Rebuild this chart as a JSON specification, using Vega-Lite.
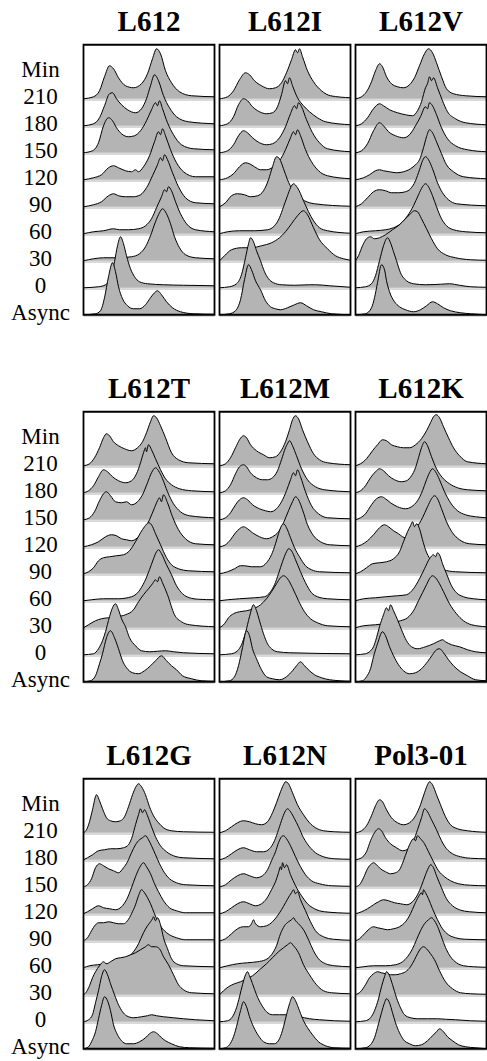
{
"$schema": "https://vega.github.io/schema/vega-lite/v6.json",
"background": "white",
"padding": {"left": 5.5, "top": 8, "right": 0, "bottom": 0},
"spacing": 23,
"config": {"view": {"stroke": null}},
"datasets": {"d": [
{"s":"L612","t":"210","x":0,"v":0},{"s":"L612","t":"210","x":10,"v":2},{"s":"L612","t":"210","x":16,"v":8},{"s":"L612","t":"210","x":21,"v":22},{"s":"L612","t":"210","x":26,"v":33},{"s":"L612","t":"210","x":30,"v":30},{"s":"L612","t":"210","x":35,"v":21},{"s":"L612","t":"210","x":42,"v":13},{"s":"L612","t":"210","x":50,"v":11},{"s":"L612","t":"210","x":58,"v":15},{"s":"L612","t":"210","x":64,"v":25},{"s":"L612","t":"210","x":69,"v":40},{"s":"L612","t":"210","x":73,"v":50},{"s":"L612","t":"210","x":77,"v":45},{"s":"L612","t":"210","x":82,"v":28},{"s":"L612","t":"210","x":88,"v":16},{"s":"L612","t":"210","x":96,"v":7},{"s":"L612","t":"210","x":108,"v":3},{"s":"L612","t":"210","x":131,"v":2},
{"s":"L612","t":"180","x":0,"v":0},{"s":"L612","t":"180","x":10,"v":2},{"s":"L612","t":"180","x":16,"v":8},{"s":"L612","t":"180","x":21,"v":20},{"s":"L612","t":"180","x":26,"v":32},{"s":"L612","t":"180","x":29,"v":33},{"s":"L612","t":"180","x":33,"v":27},{"s":"L612","t":"180","x":38,"v":21},{"s":"L612","t":"180","x":44,"v":16},{"s":"L612","t":"180","x":52,"v":13},{"s":"L612","t":"180","x":58,"v":17},{"s":"L612","t":"180","x":63,"v":27},{"s":"L612","t":"180","x":67,"v":40},{"s":"L612","t":"180","x":71,"v":51},{"s":"L612","t":"180","x":75,"v":45},{"s":"L612","t":"180","x":80,"v":30},{"s":"L612","t":"180","x":86,"v":18},{"s":"L612","t":"180","x":93,"v":9},{"s":"L612","t":"180","x":105,"v":4},{"s":"L612","t":"180","x":131,"v":2},
{"s":"L612","t":"150","x":0,"v":0},{"s":"L612","t":"150","x":9,"v":2},{"s":"L612","t":"150","x":15,"v":10},{"s":"L612","t":"150","x":20,"v":27},{"s":"L612","t":"150","x":25,"v":35},{"s":"L612","t":"150","x":29,"v":32},{"s":"L612","t":"150","x":33,"v":25},{"s":"L612","t":"150","x":38,"v":19},{"s":"L612","t":"150","x":45,"v":16},{"s":"L612","t":"150","x":51,"v":17},{"s":"L612","t":"150","x":57,"v":22},{"s":"L612","t":"150","x":63,"v":32},{"s":"L612","t":"150","x":68,"v":43},{"s":"L612","t":"150","x":72,"v":50},{"s":"L612","t":"150","x":74,"v":47},{"s":"L612","t":"150","x":76,"v":52},{"s":"L612","t":"150","x":79,"v":44},{"s":"L612","t":"150","x":84,"v":30},{"s":"L612","t":"150","x":90,"v":18},{"s":"L612","t":"150","x":98,"v":8},{"s":"L612","t":"150","x":110,"v":4},{"s":"L612","t":"150","x":131,"v":3},
{"s":"L612","t":"120","x":0,"v":0},{"s":"L612","t":"120","x":10,"v":2},{"s":"L612","t":"120","x":18,"v":5},{"s":"L612","t":"120","x":25,"v":12},{"s":"L612","t":"120","x":30,"v":14},{"s":"L612","t":"120","x":35,"v":12},{"s":"L612","t":"120","x":42,"v":9},{"s":"L612","t":"120","x":48,"v":8},{"s":"L612","t":"120","x":52,"v":10},{"s":"L612","t":"120","x":55,"v":8},{"s":"L612","t":"120","x":60,"v":13},{"s":"L612","t":"120","x":66,"v":24},{"s":"L612","t":"120","x":71,"v":38},{"s":"L612","t":"120","x":75,"v":48},{"s":"L612","t":"120","x":77,"v":45},{"s":"L612","t":"120","x":79,"v":51},{"s":"L612","t":"120","x":82,"v":44},{"s":"L612","t":"120","x":87,"v":30},{"s":"L612","t":"120","x":93,"v":17},{"s":"L612","t":"120","x":100,"v":8},{"s":"L612","t":"120","x":112,"v":3},{"s":"L612","t":"120","x":131,"v":3},
{"s":"L612","t":"90","x":0,"v":0},{"s":"L612","t":"90","x":10,"v":2},{"s":"L612","t":"90","x":18,"v":5},{"s":"L612","t":"90","x":25,"v":11},{"s":"L612","t":"90","x":30,"v":13},{"s":"L612","t":"90","x":35,"v":11},{"s":"L612","t":"90","x":42,"v":10},{"s":"L612","t":"90","x":50,"v":10},{"s":"L612","t":"90","x":57,"v":12},{"s":"L612","t":"90","x":63,"v":19},{"s":"L612","t":"90","x":69,"v":31},{"s":"L612","t":"90","x":74,"v":42},{"s":"L612","t":"90","x":77,"v":49},{"s":"L612","t":"90","x":79,"v":46},{"s":"L612","t":"90","x":81,"v":52},{"s":"L612","t":"90","x":84,"v":47},{"s":"L612","t":"90","x":89,"v":34},{"s":"L612","t":"90","x":95,"v":20},{"s":"L612","t":"90","x":102,"v":9},{"s":"L612","t":"90","x":112,"v":4},{"s":"L612","t":"90","x":131,"v":3},
{"s":"L612","t":"60","x":0,"v":0},{"s":"L612","t":"60","x":10,"v":2},{"s":"L612","t":"60","x":20,"v":3},{"s":"L612","t":"60","x":30,"v":5},{"s":"L612","t":"60","x":36,"v":4},{"s":"L612","t":"60","x":45,"v":4},{"s":"L612","t":"60","x":55,"v":5},{"s":"L612","t":"60","x":62,"v":8},{"s":"L612","t":"60","x":68,"v":15},{"s":"L612","t":"60","x":73,"v":26},{"s":"L612","t":"60","x":78,"v":37},{"s":"L612","t":"60","x":81,"v":44},{"s":"L612","t":"60","x":83,"v":42},{"s":"L612","t":"60","x":85,"v":47},{"s":"L612","t":"60","x":88,"v":43},{"s":"L612","t":"60","x":92,"v":32},{"s":"L612","t":"60","x":97,"v":20},{"s":"L612","t":"60","x":103,"v":10},{"s":"L612","t":"60","x":112,"v":4},{"s":"L612","t":"60","x":131,"v":2},
{"s":"L612","t":"30","x":0,"v":0},{"s":"L612","t":"30","x":10,"v":2},{"s":"L612","t":"30","x":20,"v":3},{"s":"L612","t":"30","x":35,"v":3},{"s":"L612","t":"30","x":48,"v":4},{"s":"L612","t":"30","x":56,"v":7},{"s":"L612","t":"30","x":62,"v":14},{"s":"L612","t":"30","x":67,"v":25},{"s":"L612","t":"30","x":72,"v":39},{"s":"L612","t":"30","x":76,"v":48},{"s":"L612","t":"30","x":79,"v":52},{"s":"L612","t":"30","x":83,"v":47},{"s":"L612","t":"30","x":87,"v":37},{"s":"L612","t":"30","x":91,"v":24},{"s":"L612","t":"30","x":96,"v":13},{"s":"L612","t":"30","x":102,"v":6},{"s":"L612","t":"30","x":112,"v":3},{"s":"L612","t":"30","x":131,"v":2},
{"s":"L612","t":"0","x":0,"v":0},{"s":"L612","t":"0","x":15,"v":1},{"s":"L612","t":"0","x":22,"v":3},{"s":"L612","t":"0","x":27,"v":10},{"s":"L612","t":"0","x":31,"v":26},{"s":"L612","t":"0","x":34,"v":42},{"s":"L612","t":"0","x":37,"v":51},{"s":"L612","t":"0","x":40,"v":44},{"s":"L612","t":"0","x":43,"v":32},{"s":"L612","t":"0","x":47,"v":19},{"s":"L612","t":"0","x":51,"v":11},{"s":"L612","t":"0","x":56,"v":6},{"s":"L612","t":"0","x":64,"v":4},{"s":"L612","t":"0","x":80,"v":3},{"s":"L612","t":"0","x":100,"v":2.5},{"s":"L612","t":"0","x":131,"v":2},
{"s":"L612","t":"Async","x":0,"v":0},{"s":"L612","t":"Async","x":12,"v":1},{"s":"L612","t":"Async","x":17,"v":4},{"s":"L612","t":"Async","x":21,"v":17},{"s":"L612","t":"Async","x":25,"v":38},{"s":"L612","t":"Async","x":29,"v":52},{"s":"L612","t":"Async","x":32,"v":43},{"s":"L612","t":"Async","x":35,"v":28},{"s":"L612","t":"Async","x":39,"v":16},{"s":"L612","t":"Async","x":44,"v":9},{"s":"L612","t":"Async","x":50,"v":6},{"s":"L612","t":"Async","x":56,"v":6},{"s":"L612","t":"Async","x":62,"v":10},{"s":"L612","t":"Async","x":67,"v":17},{"s":"L612","t":"Async","x":71,"v":22},{"s":"L612","t":"Async","x":74,"v":24},{"s":"L612","t":"Async","x":78,"v":20},{"s":"L612","t":"Async","x":83,"v":13},{"s":"L612","t":"Async","x":89,"v":7},{"s":"L612","t":"Async","x":97,"v":3},{"s":"L612","t":"Async","x":110,"v":1},{"s":"L612","t":"Async","x":131,"v":0.5},

{"s":"L612I","t":"210","x":0,"v":0},{"s":"L612I","t":"210","x":8,"v":2},{"s":"L612I","t":"210","x":14,"v":8},{"s":"L612I","t":"210","x":20,"v":19},{"s":"L612I","t":"210","x":26,"v":26},{"s":"L612I","t":"210","x":30,"v":24},{"s":"L612I","t":"210","x":35,"v":18},{"s":"L612I","t":"210","x":42,"v":13},{"s":"L612I","t":"210","x":50,"v":10},{"s":"L612I","t":"210","x":56,"v":11},{"s":"L612I","t":"210","x":62,"v":16},{"s":"L612I","t":"210","x":67,"v":26},{"s":"L612I","t":"210","x":72,"v":39},{"s":"L612I","t":"210","x":76,"v":49},{"s":"L612I","t":"210","x":78,"v":46},{"s":"L612I","t":"210","x":80,"v":50},{"s":"L612I","t":"210","x":83,"v":42},{"s":"L612I","t":"210","x":88,"v":28},{"s":"L612I","t":"210","x":94,"v":17},{"s":"L612I","t":"210","x":102,"v":8},{"s":"L612I","t":"210","x":111,"v":3},{"s":"L612I","t":"210","x":131,"v":1},
{"s":"L612I","t":"180","x":0,"v":0},{"s":"L612I","t":"180","x":8,"v":2},{"s":"L612I","t":"180","x":14,"v":9},{"s":"L612I","t":"180","x":19,"v":21},{"s":"L612I","t":"180","x":24,"v":27},{"s":"L612I","t":"180","x":28,"v":25},{"s":"L612I","t":"180","x":33,"v":19},{"s":"L612I","t":"180","x":40,"v":14},{"s":"L612I","t":"180","x":47,"v":12},{"s":"L612I","t":"180","x":53,"v":13},{"s":"L612I","t":"180","x":58,"v":19},{"s":"L612I","t":"180","x":62,"v":31},{"s":"L612I","t":"180","x":66,"v":45},{"s":"L612I","t":"180","x":68,"v":42},{"s":"L612I","t":"180","x":70,"v":48},{"s":"L612I","t":"180","x":73,"v":40},{"s":"L612I","t":"180","x":78,"v":28},{"s":"L612I","t":"180","x":84,"v":20},{"s":"L612I","t":"180","x":90,"v":14},{"s":"L612I","t":"180","x":98,"v":8},{"s":"L612I","t":"180","x":106,"v":4},{"s":"L612I","t":"180","x":131,"v":1},
{"s":"L612I","t":"150","x":0,"v":0},{"s":"L612I","t":"150","x":8,"v":2},{"s":"L612I","t":"150","x":14,"v":8},{"s":"L612I","t":"150","x":19,"v":17},{"s":"L612I","t":"150","x":24,"v":22},{"s":"L612I","t":"150","x":28,"v":20},{"s":"L612I","t":"150","x":33,"v":15},{"s":"L612I","t":"150","x":40,"v":10},{"s":"L612I","t":"150","x":47,"v":8},{"s":"L612I","t":"150","x":53,"v":9},{"s":"L612I","t":"150","x":60,"v":15},{"s":"L612I","t":"150","x":66,"v":26},{"s":"L612I","t":"150","x":71,"v":39},{"s":"L612I","t":"150","x":75,"v":47},{"s":"L612I","t":"150","x":77,"v":44},{"s":"L612I","t":"150","x":79,"v":50},{"s":"L612I","t":"150","x":82,"v":46},{"s":"L612I","t":"150","x":87,"v":33},{"s":"L612I","t":"150","x":93,"v":20},{"s":"L612I","t":"150","x":100,"v":10},{"s":"L612I","t":"150","x":108,"v":4},{"s":"L612I","t":"150","x":131,"v":1},
{"s":"L612I","t":"120","x":0,"v":0},{"s":"L612I","t":"120","x":8,"v":2},{"s":"L612I","t":"120","x":14,"v":6},{"s":"L612I","t":"120","x":20,"v":13},{"s":"L612I","t":"120","x":26,"v":17},{"s":"L612I","t":"120","x":30,"v":16},{"s":"L612I","t":"120","x":35,"v":13},{"s":"L612I","t":"120","x":41,"v":10},{"s":"L612I","t":"120","x":47,"v":10},{"s":"L612I","t":"120","x":54,"v":13},{"s":"L612I","t":"120","x":60,"v":19},{"s":"L612I","t":"120","x":66,"v":30},{"s":"L612I","t":"120","x":71,"v":42},{"s":"L612I","t":"120","x":74,"v":48},{"s":"L612I","t":"120","x":76,"v":45},{"s":"L612I","t":"120","x":78,"v":50},{"s":"L612I","t":"120","x":81,"v":44},{"s":"L612I","t":"120","x":86,"v":30},{"s":"L612I","t":"120","x":92,"v":18},{"s":"L612I","t":"120","x":99,"v":9},{"s":"L612I","t":"120","x":108,"v":4},{"s":"L612I","t":"120","x":131,"v":1},
{"s":"L612I","t":"90","x":0,"v":0},{"s":"L612I","t":"90","x":6,"v":4},{"s":"L612I","t":"90","x":12,"v":11},{"s":"L612I","t":"90","x":18,"v":13},{"s":"L612I","t":"90","x":25,"v":12},{"s":"L612I","t":"90","x":31,"v":10},{"s":"L612I","t":"90","x":38,"v":11},{"s":"L612I","t":"90","x":44,"v":16},{"s":"L612I","t":"90","x":49,"v":27},{"s":"L612I","t":"90","x":53,"v":40},{"s":"L612I","t":"90","x":57,"v":50},{"s":"L612I","t":"90","x":60,"v":48},{"s":"L612I","t":"90","x":64,"v":38},{"s":"L612I","t":"90","x":68,"v":27},{"s":"L612I","t":"90","x":73,"v":17},{"s":"L612I","t":"90","x":79,"v":10},{"s":"L612I","t":"90","x":85,"v":6},{"s":"L612I","t":"90","x":95,"v":3},{"s":"L612I","t":"90","x":131,"v":0.5},
{"s":"L612I","t":"60","x":0,"v":0},{"s":"L612I","t":"60","x":8,"v":2},{"s":"L612I","t":"60","x":20,"v":3},{"s":"L612I","t":"60","x":35,"v":3},{"s":"L612I","t":"60","x":48,"v":4},{"s":"L612I","t":"60","x":55,"v":8},{"s":"L612I","t":"60","x":60,"v":16},{"s":"L612I","t":"60","x":64,"v":27},{"s":"L612I","t":"60","x":68,"v":38},{"s":"L612I","t":"60","x":71,"v":46},{"s":"L612I","t":"60","x":74,"v":50},{"s":"L612I","t":"60","x":78,"v":46},{"s":"L612I","t":"60","x":84,"v":33},{"s":"L612I","t":"60","x":89,"v":22},{"s":"L612I","t":"60","x":94,"v":13},{"s":"L612I","t":"60","x":100,"v":6},{"s":"L612I","t":"60","x":108,"v":3},{"s":"L612I","t":"60","x":131,"v":0.5},
{"s":"L612I","t":"30","x":0,"v":0},{"s":"L612I","t":"30","x":5,"v":5},{"s":"L612I","t":"30","x":12,"v":11},{"s":"L612I","t":"30","x":22,"v":13},{"s":"L612I","t":"30","x":32,"v":13},{"s":"L612I","t":"30","x":42,"v":15},{"s":"L612I","t":"30","x":52,"v":18},{"s":"L612I","t":"30","x":60,"v":23},{"s":"L612I","t":"30","x":66,"v":29},{"s":"L612I","t":"30","x":72,"v":37},{"s":"L612I","t":"30","x":78,"v":45},{"s":"L612I","t":"30","x":84,"v":50},{"s":"L612I","t":"30","x":88,"v":46},{"s":"L612I","t":"30","x":94,"v":33},{"s":"L612I","t":"30","x":100,"v":21},{"s":"L612I","t":"30","x":108,"v":12},{"s":"L612I","t":"30","x":116,"v":5},{"s":"L612I","t":"30","x":124,"v":2},{"s":"L612I","t":"30","x":131,"v":0.5},
{"s":"L612I","t":"0","x":0,"v":0},{"s":"L612I","t":"0","x":10,"v":1},{"s":"L612I","t":"0","x":17,"v":4},{"s":"L612I","t":"0","x":22,"v":13},{"s":"L612I","t":"0","x":26,"v":30},{"s":"L612I","t":"0","x":29,"v":44},{"s":"L612I","t":"0","x":31,"v":50},{"s":"L612I","t":"0","x":34,"v":46},{"s":"L612I","t":"0","x":37,"v":37},{"s":"L612I","t":"0","x":41,"v":27},{"s":"L612I","t":"0","x":45,"v":16},{"s":"L612I","t":"0","x":49,"v":9},{"s":"L612I","t":"0","x":54,"v":5},{"s":"L612I","t":"0","x":62,"v":3},{"s":"L612I","t":"0","x":75,"v":2.5},{"s":"L612I","t":"0","x":90,"v":3},{"s":"L612I","t":"0","x":96,"v":3},{"s":"L612I","t":"0","x":110,"v":2},{"s":"L612I","t":"0","x":131,"v":0.5},
{"s":"L612I","t":"Async","x":0,"v":0},{"s":"L612I","t":"Async","x":10,"v":1},{"s":"L612I","t":"Async","x":16,"v":4},{"s":"L612I","t":"Async","x":21,"v":15},{"s":"L612I","t":"Async","x":25,"v":35},{"s":"L612I","t":"Async","x":29,"v":50},{"s":"L612I","t":"Async","x":32,"v":45},{"s":"L612I","t":"Async","x":36,"v":34},{"s":"L612I","t":"Async","x":41,"v":25},{"s":"L612I","t":"Async","x":46,"v":14},{"s":"L612I","t":"Async","x":51,"v":8},{"s":"L612I","t":"Async","x":56,"v":6},{"s":"L612I","t":"Async","x":61,"v":5},{"s":"L612I","t":"Async","x":68,"v":7},{"s":"L612I","t":"Async","x":75,"v":10},{"s":"L612I","t":"Async","x":81,"v":12},{"s":"L612I","t":"Async","x":87,"v":9},{"s":"L612I","t":"Async","x":94,"v":5},{"s":"L612I","t":"Async","x":102,"v":3},{"s":"L612I","t":"Async","x":112,"v":1},{"s":"L612I","t":"Async","x":131,"v":0},

{"s":"L612V","t":"210","x":0,"v":0},{"s":"L612V","t":"210","x":6,"v":2},{"s":"L612V","t":"210","x":11,"v":7},{"s":"L612V","t":"210","x":16,"v":17},{"s":"L612V","t":"210","x":20,"v":28},{"s":"L612V","t":"210","x":24,"v":35},{"s":"L612V","t":"210","x":27,"v":32},{"s":"L612V","t":"210","x":31,"v":22},{"s":"L612V","t":"210","x":36,"v":15},{"s":"L612V","t":"210","x":42,"v":12},{"s":"L612V","t":"210","x":48,"v":11},{"s":"L612V","t":"210","x":54,"v":14},{"s":"L612V","t":"210","x":59,"v":21},{"s":"L612V","t":"210","x":64,"v":33},{"s":"L612V","t":"210","x":69,"v":45},{"s":"L612V","t":"210","x":73,"v":50},{"s":"L612V","t":"210","x":77,"v":46},{"s":"L612V","t":"210","x":81,"v":36},{"s":"L612V","t":"210","x":86,"v":22},{"s":"L612V","t":"210","x":91,"v":10},{"s":"L612V","t":"210","x":98,"v":5},{"s":"L612V","t":"210","x":110,"v":3},{"s":"L612V","t":"210","x":131,"v":2},
{"s":"L612V","t":"180","x":0,"v":0},{"s":"L612V","t":"180","x":6,"v":2},{"s":"L612V","t":"180","x":12,"v":8},{"s":"L612V","t":"180","x":18,"v":17},{"s":"L612V","t":"180","x":24,"v":22},{"s":"L612V","t":"180","x":28,"v":20},{"s":"L612V","t":"180","x":34,"v":16},{"s":"L612V","t":"180","x":42,"v":13},{"s":"L612V","t":"180","x":50,"v":11},{"s":"L612V","t":"180","x":57,"v":10},{"s":"L612V","t":"180","x":62,"v":15},{"s":"L612V","t":"180","x":66,"v":24},{"s":"L612V","t":"180","x":70,"v":38},{"s":"L612V","t":"180","x":72,"v":42},{"s":"L612V","t":"180","x":74,"v":49},{"s":"L612V","t":"180","x":76,"v":45},{"s":"L612V","t":"180","x":78,"v":48},{"s":"L612V","t":"180","x":82,"v":38},{"s":"L612V","t":"180","x":87,"v":25},{"s":"L612V","t":"180","x":92,"v":14},{"s":"L612V","t":"180","x":100,"v":7},{"s":"L612V","t":"180","x":110,"v":3},{"s":"L612V","t":"180","x":131,"v":1},
{"s":"L612V","t":"150","x":0,"v":0},{"s":"L612V","t":"150","x":6,"v":2},{"s":"L612V","t":"150","x":12,"v":9},{"s":"L612V","t":"150","x":18,"v":22},{"s":"L612V","t":"150","x":24,"v":30},{"s":"L612V","t":"150","x":28,"v":27},{"s":"L612V","t":"150","x":33,"v":21},{"s":"L612V","t":"150","x":40,"v":17},{"s":"L612V","t":"150","x":48,"v":15},{"s":"L612V","t":"150","x":54,"v":18},{"s":"L612V","t":"150","x":60,"v":27},{"s":"L612V","t":"150","x":65,"v":36},{"s":"L612V","t":"150","x":70,"v":46},{"s":"L612V","t":"150","x":72,"v":44},{"s":"L612V","t":"150","x":74,"v":50},{"s":"L612V","t":"150","x":77,"v":47},{"s":"L612V","t":"150","x":81,"v":38},{"s":"L612V","t":"150","x":86,"v":25},{"s":"L612V","t":"150","x":92,"v":14},{"s":"L612V","t":"150","x":100,"v":7},{"s":"L612V","t":"150","x":112,"v":3},{"s":"L612V","t":"150","x":131,"v":1},
{"s":"L612V","t":"120","x":0,"v":0},{"s":"L612V","t":"120","x":8,"v":2},{"s":"L612V","t":"120","x":14,"v":5},{"s":"L612V","t":"120","x":20,"v":9},{"s":"L612V","t":"120","x":24,"v":10},{"s":"L612V","t":"120","x":28,"v":9},{"s":"L612V","t":"120","x":34,"v":8},{"s":"L612V","t":"120","x":41,"v":7},{"s":"L612V","t":"120","x":48,"v":8},{"s":"L612V","t":"120","x":55,"v":11},{"s":"L612V","t":"120","x":60,"v":15},{"s":"L612V","t":"120","x":64,"v":20},{"s":"L612V","t":"120","x":68,"v":32},{"s":"L612V","t":"120","x":71,"v":43},{"s":"L612V","t":"120","x":74,"v":50},{"s":"L612V","t":"120","x":77,"v":47},{"s":"L612V","t":"120","x":81,"v":38},{"s":"L612V","t":"120","x":86,"v":26},{"s":"L612V","t":"120","x":91,"v":15},{"s":"L612V","t":"120","x":98,"v":8},{"s":"L612V","t":"120","x":108,"v":3},{"s":"L612V","t":"120","x":131,"v":1},
{"s":"L612V","t":"90","x":0,"v":0},{"s":"L612V","t":"90","x":6,"v":3},{"s":"L612V","t":"90","x":12,"v":9},{"s":"L612V","t":"90","x":18,"v":15},{"s":"L612V","t":"90","x":24,"v":17},{"s":"L612V","t":"90","x":30,"v":16},{"s":"L612V","t":"90","x":36,"v":14},{"s":"L612V","t":"90","x":43,"v":14},{"s":"L612V","t":"90","x":50,"v":15},{"s":"L612V","t":"90","x":55,"v":18},{"s":"L612V","t":"90","x":60,"v":26},{"s":"L612V","t":"90","x":64,"v":37},{"s":"L612V","t":"90","x":67,"v":46},{"s":"L612V","t":"90","x":70,"v":50},{"s":"L612V","t":"90","x":73,"v":47},{"s":"L612V","t":"90","x":77,"v":38},{"s":"L612V","t":"90","x":82,"v":24},{"s":"L612V","t":"90","x":87,"v":14},{"s":"L612V","t":"90","x":93,"v":7},{"s":"L612V","t":"90","x":101,"v":3},{"s":"L612V","t":"90","x":131,"v":1},
{"s":"L612V","t":"60","x":0,"v":0},{"s":"L612V","t":"60","x":8,"v":2},{"s":"L612V","t":"60","x":20,"v":3},{"s":"L612V","t":"60","x":30,"v":4},{"s":"L612V","t":"60","x":38,"v":6},{"s":"L612V","t":"60","x":45,"v":10},{"s":"L612V","t":"60","x":52,"v":18},{"s":"L612V","t":"60","x":58,"v":28},{"s":"L612V","t":"60","x":63,"v":39},{"s":"L612V","t":"60","x":67,"v":47},{"s":"L612V","t":"60","x":70,"v":50},{"s":"L612V","t":"60","x":73,"v":47},{"s":"L612V","t":"60","x":77,"v":38},{"s":"L612V","t":"60","x":81,"v":27},{"s":"L612V","t":"60","x":86,"v":15},{"s":"L612V","t":"60","x":91,"v":8},{"s":"L612V","t":"60","x":98,"v":4},{"s":"L612V","t":"60","x":110,"v":2},{"s":"L612V","t":"60","x":131,"v":1},
{"s":"L612V","t":"30","x":0,"v":0},{"s":"L612V","t":"30","x":3,"v":5},{"s":"L612V","t":"30","x":7,"v":15},{"s":"L612V","t":"30","x":11,"v":22},{"s":"L612V","t":"30","x":15,"v":24},{"s":"L612V","t":"30","x":19,"v":22},{"s":"L612V","t":"30","x":24,"v":23},{"s":"L612V","t":"30","x":30,"v":26},{"s":"L612V","t":"30","x":37,"v":31},{"s":"L612V","t":"30","x":44,"v":36},{"s":"L612V","t":"30","x":50,"v":42},{"s":"L612V","t":"30","x":55,"v":47},{"s":"L612V","t":"30","x":59,"v":50},{"s":"L612V","t":"30","x":62,"v":49},{"s":"L612V","t":"30","x":66,"v":42},{"s":"L612V","t":"30","x":71,"v":32},{"s":"L612V","t":"30","x":76,"v":22},{"s":"L612V","t":"30","x":82,"v":12},{"s":"L612V","t":"30","x":90,"v":6},{"s":"L612V","t":"30","x":100,"v":3},{"s":"L612V","t":"30","x":115,"v":1},{"s":"L612V","t":"30","x":131,"v":0.5},
{"s":"L612V","t":"0","x":0,"v":0},{"s":"L612V","t":"0","x":10,"v":1},{"s":"L612V","t":"0","x":16,"v":4},{"s":"L612V","t":"0","x":20,"v":12},{"s":"L612V","t":"0","x":24,"v":27},{"s":"L612V","t":"0","x":28,"v":42},{"s":"L612V","t":"0","x":32,"v":50},{"s":"L612V","t":"0","x":35,"v":45},{"s":"L612V","t":"0","x":38,"v":36},{"s":"L612V","t":"0","x":41,"v":27},{"s":"L612V","t":"0","x":45,"v":15},{"s":"L612V","t":"0","x":51,"v":7},{"s":"L612V","t":"0","x":58,"v":4},{"s":"L612V","t":"0","x":70,"v":3},{"s":"L612V","t":"0","x":85,"v":3.5},{"s":"L612V","t":"0","x":94,"v":4},{"s":"L612V","t":"0","x":104,"v":2.5},{"s":"L612V","t":"0","x":115,"v":1},{"s":"L612V","t":"0","x":131,"v":0.5},
{"s":"L612V","t":"Async","x":0,"v":0},{"s":"L612V","t":"Async","x":10,"v":1},{"s":"L612V","t":"Async","x":16,"v":7},{"s":"L612V","t":"Async","x":19,"v":17},{"s":"L612V","t":"Async","x":22,"v":32},{"s":"L612V","t":"Async","x":26,"v":50},{"s":"L612V","t":"Async","x":29,"v":45},{"s":"L612V","t":"Async","x":31,"v":34},{"s":"L612V","t":"Async","x":34,"v":23},{"s":"L612V","t":"Async","x":39,"v":13},{"s":"L612V","t":"Async","x":44,"v":8},{"s":"L612V","t":"Async","x":50,"v":5},{"s":"L612V","t":"Async","x":58,"v":3},{"s":"L612V","t":"Async","x":65,"v":5},{"s":"L612V","t":"Async","x":71,"v":9},{"s":"L612V","t":"Async","x":77,"v":13},{"s":"L612V","t":"Async","x":82,"v":11},{"s":"L612V","t":"Async","x":88,"v":7},{"s":"L612V","t":"Async","x":95,"v":4},{"s":"L612V","t":"Async","x":105,"v":2},{"s":"L612V","t":"Async","x":115,"v":1},{"s":"L612V","t":"Async","x":131,"v":0},

{"s":"L612T","t":"210","x":0,"v":0},{"s":"L612T","t":"210","x":6,"v":2},{"s":"L612T","t":"210","x":11,"v":8},{"s":"L612T","t":"210","x":16,"v":18},{"s":"L612T","t":"210","x":20,"v":28},{"s":"L612T","t":"210","x":23,"v":32},{"s":"L612T","t":"210","x":26,"v":30},{"s":"L612T","t":"210","x":30,"v":24},{"s":"L612T","t":"210","x":35,"v":20},{"s":"L612T","t":"210","x":41,"v":17},{"s":"L612T","t":"210","x":48,"v":15},{"s":"L612T","t":"210","x":54,"v":18},{"s":"L612T","t":"210","x":59,"v":24},{"s":"L612T","t":"210","x":63,"v":33},{"s":"L612T","t":"210","x":67,"v":44},{"s":"L612T","t":"210","x":70,"v":50},{"s":"L612T","t":"210","x":73,"v":48},{"s":"L612T","t":"210","x":77,"v":40},{"s":"L612T","t":"210","x":82,"v":28},{"s":"L612T","t":"210","x":88,"v":13},{"s":"L612T","t":"210","x":95,"v":6},{"s":"L612T","t":"210","x":105,"v":3},{"s":"L612T","t":"210","x":131,"v":2},
{"s":"L612T","t":"180","x":0,"v":0},{"s":"L612T","t":"180","x":5,"v":2},{"s":"L612T","t":"180","x":10,"v":7},{"s":"L612T","t":"180","x":15,"v":16},{"s":"L612T","t":"180","x":20,"v":23},{"s":"L612T","t":"180","x":24,"v":21},{"s":"L612T","t":"180","x":29,"v":16},{"s":"L612T","t":"180","x":35,"v":12},{"s":"L612T","t":"180","x":42,"v":10},{"s":"L612T","t":"180","x":48,"v":12},{"s":"L612T","t":"180","x":53,"v":19},{"s":"L612T","t":"180","x":57,"v":30},{"s":"L612T","t":"180","x":60,"v":40},{"s":"L612T","t":"180","x":62,"v":45},{"s":"L612T","t":"180","x":63,"v":41},{"s":"L612T","t":"180","x":65,"v":48},{"s":"L612T","t":"180","x":68,"v":43},{"s":"L612T","t":"180","x":72,"v":34},{"s":"L612T","t":"180","x":77,"v":23},{"s":"L612T","t":"180","x":82,"v":14},{"s":"L612T","t":"180","x":88,"v":8},{"s":"L612T","t":"180","x":96,"v":4},{"s":"L612T","t":"180","x":108,"v":2},{"s":"L612T","t":"180","x":131,"v":1},
{"s":"L612T","t":"150","x":0,"v":0},{"s":"L612T","t":"150","x":6,"v":2},{"s":"L612T","t":"150","x":11,"v":8},{"s":"L612T","t":"150","x":16,"v":19},{"s":"L612T","t":"150","x":20,"v":26},{"s":"L612T","t":"150","x":23,"v":28},{"s":"L612T","t":"150","x":27,"v":24},{"s":"L612T","t":"150","x":32,"v":18},{"s":"L612T","t":"150","x":38,"v":17},{"s":"L612T","t":"150","x":43,"v":18},{"s":"L612T","t":"150","x":48,"v":15},{"s":"L612T","t":"150","x":54,"v":18},{"s":"L612T","t":"150","x":59,"v":25},{"s":"L612T","t":"150","x":64,"v":37},{"s":"L612T","t":"150","x":68,"v":47},{"s":"L612T","t":"150","x":72,"v":52},{"s":"L612T","t":"150","x":75,"v":49},{"s":"L612T","t":"150","x":79,"v":41},{"s":"L612T","t":"150","x":84,"v":28},{"s":"L612T","t":"150","x":90,"v":16},{"s":"L612T","t":"150","x":97,"v":8},{"s":"L612T","t":"150","x":106,"v":4},{"s":"L612T","t":"150","x":131,"v":2},
{"s":"L612T","t":"120","x":0,"v":0},{"s":"L612T","t":"120","x":8,"v":2},{"s":"L612T","t":"120","x":15,"v":5},{"s":"L612T","t":"120","x":22,"v":10},{"s":"L612T","t":"120","x":28,"v":12},{"s":"L612T","t":"120","x":33,"v":11},{"s":"L612T","t":"120","x":38,"v":8},{"s":"L612T","t":"120","x":43,"v":7},{"s":"L612T","t":"120","x":48,"v":6},{"s":"L612T","t":"120","x":54,"v":9},{"s":"L612T","t":"120","x":60,"v":16},{"s":"L612T","t":"120","x":66,"v":27},{"s":"L612T","t":"120","x":71,"v":39},{"s":"L612T","t":"120","x":74,"v":46},{"s":"L612T","t":"120","x":76,"v":49},{"s":"L612T","t":"120","x":78,"v":45},{"s":"L612T","t":"120","x":80,"v":52},{"s":"L612T","t":"120","x":84,"v":44},{"s":"L612T","t":"120","x":89,"v":30},{"s":"L612T","t":"120","x":95,"v":17},{"s":"L612T","t":"120","x":102,"v":8},{"s":"L612T","t":"120","x":112,"v":3},{"s":"L612T","t":"120","x":131,"v":2},
{"s":"L612T","t":"90","x":0,"v":0},{"s":"L612T","t":"90","x":5,"v":2},{"s":"L612T","t":"90","x":10,"v":6},{"s":"L612T","t":"90","x":15,"v":13},{"s":"L612T","t":"90","x":20,"v":16},{"s":"L612T","t":"90","x":26,"v":17},{"s":"L612T","t":"90","x":33,"v":18},{"s":"L612T","t":"90","x":40,"v":19},{"s":"L612T","t":"90","x":46,"v":23},{"s":"L612T","t":"90","x":52,"v":32},{"s":"L612T","t":"90","x":57,"v":41},{"s":"L612T","t":"90","x":61,"v":47},{"s":"L612T","t":"90","x":65,"v":51},{"s":"L612T","t":"90","x":68,"v":49},{"s":"L612T","t":"90","x":72,"v":40},{"s":"L612T","t":"90","x":77,"v":29},{"s":"L612T","t":"90","x":83,"v":16},{"s":"L612T","t":"90","x":88,"v":9},{"s":"L612T","t":"90","x":95,"v":5},{"s":"L612T","t":"90","x":105,"v":3},{"s":"L612T","t":"90","x":131,"v":2},
{"s":"L612T","t":"60","x":0,"v":0},{"s":"L612T","t":"60","x":8,"v":1},{"s":"L612T","t":"60","x":20,"v":2},{"s":"L612T","t":"60","x":35,"v":2},{"s":"L612T","t":"60","x":48,"v":4},{"s":"L612T","t":"60","x":55,"v":9},{"s":"L612T","t":"60","x":61,"v":19},{"s":"L612T","t":"60","x":66,"v":31},{"s":"L612T","t":"60","x":70,"v":42},{"s":"L612T","t":"60","x":73,"v":49},{"s":"L612T","t":"60","x":75,"v":51},{"s":"L612T","t":"60","x":78,"v":47},{"s":"L612T","t":"60","x":83,"v":36},{"s":"L612T","t":"60","x":88,"v":26},{"s":"L612T","t":"60","x":93,"v":15},{"s":"L612T","t":"60","x":99,"v":7},{"s":"L612T","t":"60","x":106,"v":3},{"s":"L612T","t":"60","x":115,"v":1.5},{"s":"L612T","t":"60","x":131,"v":1},
{"s":"L612T","t":"30","x":0,"v":0},{"s":"L612T","t":"30","x":5,"v":3},{"s":"L612T","t":"30","x":12,"v":7},{"s":"L612T","t":"30","x":18,"v":9},{"s":"L612T","t":"30","x":25,"v":10},{"s":"L612T","t":"30","x":33,"v":11},{"s":"L612T","t":"30","x":42,"v":13},{"s":"L612T","t":"30","x":50,"v":18},{"s":"L612T","t":"30","x":55,"v":26},{"s":"L612T","t":"30","x":60,"v":33},{"s":"L612T","t":"30","x":65,"v":39},{"s":"L612T","t":"30","x":69,"v":44},{"s":"L612T","t":"30","x":72,"v":48},{"s":"L612T","t":"30","x":74,"v":46},{"s":"L612T","t":"30","x":76,"v":51},{"s":"L612T","t":"30","x":79,"v":45},{"s":"L612T","t":"30","x":84,"v":33},{"s":"L612T","t":"30","x":91,"v":13},{"s":"L612T","t":"30","x":98,"v":6},{"s":"L612T","t":"30","x":106,"v":3},{"s":"L612T","t":"30","x":131,"v":1},
{"s":"L612T","t":"0","x":0,"v":0},{"s":"L612T","t":"0","x":10,"v":1},{"s":"L612T","t":"0","x":15,"v":6},{"s":"L612T","t":"0","x":19,"v":14},{"s":"L612T","t":"0","x":22,"v":23},{"s":"L612T","t":"0","x":26,"v":38},{"s":"L612T","t":"0","x":29,"v":47},{"s":"L612T","t":"0","x":32,"v":51},{"s":"L612T","t":"0","x":35,"v":45},{"s":"L612T","t":"0","x":38,"v":36},{"s":"L612T","t":"0","x":42,"v":28},{"s":"L612T","t":"0","x":46,"v":17},{"s":"L612T","t":"0","x":52,"v":9},{"s":"L612T","t":"0","x":58,"v":4},{"s":"L612T","t":"0","x":66,"v":3},{"s":"L612T","t":"0","x":74,"v":3.5},{"s":"L612T","t":"0","x":82,"v":4},{"s":"L612T","t":"0","x":90,"v":3},{"s":"L612T","t":"0","x":100,"v":2},{"s":"L612T","t":"0","x":131,"v":1},
{"s":"L612T","t":"Async","x":0,"v":0},{"s":"L612T","t":"Async","x":7,"v":1},{"s":"L612T","t":"Async","x":12,"v":6},{"s":"L612T","t":"Async","x":16,"v":18},{"s":"L612T","t":"Async","x":19,"v":28},{"s":"L612T","t":"Async","x":23,"v":44},{"s":"L612T","t":"Async","x":27,"v":51},{"s":"L612T","t":"Async","x":31,"v":44},{"s":"L612T","t":"Async","x":35,"v":33},{"s":"L612T","t":"Async","x":39,"v":21},{"s":"L612T","t":"Async","x":43,"v":14},{"s":"L612T","t":"Async","x":49,"v":9},{"s":"L612T","t":"Async","x":55,"v":8},{"s":"L612T","t":"Async","x":61,"v":11},{"s":"L612T","t":"Async","x":67,"v":16},{"s":"L612T","t":"Async","x":72,"v":21},{"s":"L612T","t":"Async","x":78,"v":26},{"s":"L612T","t":"Async","x":83,"v":21},{"s":"L612T","t":"Async","x":88,"v":16},{"s":"L612T","t":"Async","x":93,"v":12},{"s":"L612T","t":"Async","x":99,"v":6},{"s":"L612T","t":"Async","x":108,"v":3},{"s":"L612T","t":"Async","x":118,"v":1},{"s":"L612T","t":"Async","x":131,"v":0.5},

{"s":"L612M","t":"210","x":0,"v":0},{"s":"L612M","t":"210","x":6,"v":2},{"s":"L612M","t":"210","x":11,"v":8},{"s":"L612M","t":"210","x":16,"v":18},{"s":"L612M","t":"210","x":20,"v":26},{"s":"L612M","t":"210","x":24,"v":30},{"s":"L612M","t":"210","x":27,"v":28},{"s":"L612M","t":"210","x":31,"v":21},{"s":"L612M","t":"210","x":37,"v":15},{"s":"L612M","t":"210","x":44,"v":11},{"s":"L612M","t":"210","x":50,"v":8},{"s":"L612M","t":"210","x":56,"v":9},{"s":"L612M","t":"210","x":61,"v":14},{"s":"L612M","t":"210","x":66,"v":24},{"s":"L612M","t":"210","x":70,"v":36},{"s":"L612M","t":"210","x":73,"v":46},{"s":"L612M","t":"210","x":76,"v":50},{"s":"L612M","t":"210","x":79,"v":47},{"s":"L612M","t":"210","x":83,"v":36},{"s":"L612M","t":"210","x":88,"v":24},{"s":"L612M","t":"210","x":94,"v":12},{"s":"L612M","t":"210","x":100,"v":6},{"s":"L612M","t":"210","x":108,"v":3},{"s":"L612M","t":"210","x":131,"v":1},
{"s":"L612M","t":"180","x":0,"v":0},{"s":"L612M","t":"180","x":6,"v":2},{"s":"L612M","t":"180","x":11,"v":8},{"s":"L612M","t":"180","x":16,"v":19},{"s":"L612M","t":"180","x":20,"v":26},{"s":"L612M","t":"180","x":24,"v":28},{"s":"L612M","t":"180","x":27,"v":26},{"s":"L612M","t":"180","x":31,"v":20},{"s":"L612M","t":"180","x":37,"v":15},{"s":"L612M","t":"180","x":43,"v":13},{"s":"L612M","t":"180","x":48,"v":13},{"s":"L612M","t":"180","x":53,"v":15},{"s":"L612M","t":"180","x":58,"v":22},{"s":"L612M","t":"180","x":62,"v":33},{"s":"L612M","t":"180","x":66,"v":45},{"s":"L612M","t":"180","x":68,"v":49},{"s":"L612M","t":"180","x":70,"v":52},{"s":"L612M","t":"180","x":73,"v":47},{"s":"L612M","t":"180","x":77,"v":37},{"s":"L612M","t":"180","x":82,"v":24},{"s":"L612M","t":"180","x":88,"v":13},{"s":"L612M","t":"180","x":96,"v":6},{"s":"L612M","t":"180","x":105,"v":3},{"s":"L612M","t":"180","x":131,"v":1},
{"s":"L612M","t":"150","x":0,"v":0},{"s":"L612M","t":"150","x":6,"v":2},{"s":"L612M","t":"150","x":11,"v":7},{"s":"L612M","t":"150","x":16,"v":15},{"s":"L612M","t":"150","x":20,"v":20},{"s":"L612M","t":"150","x":24,"v":22},{"s":"L612M","t":"150","x":28,"v":20},{"s":"L612M","t":"150","x":33,"v":15},{"s":"L612M","t":"150","x":40,"v":11},{"s":"L612M","t":"150","x":46,"v":9},{"s":"L612M","t":"150","x":51,"v":8},{"s":"L612M","t":"150","x":57,"v":11},{"s":"L612M","t":"150","x":62,"v":18},{"s":"L612M","t":"150","x":67,"v":29},{"s":"L612M","t":"150","x":71,"v":40},{"s":"L612M","t":"150","x":74,"v":47},{"s":"L612M","t":"150","x":76,"v":44},{"s":"L612M","t":"150","x":78,"v":50},{"s":"L612M","t":"150","x":81,"v":43},{"s":"L612M","t":"150","x":86,"v":28},{"s":"L612M","t":"150","x":92,"v":14},{"s":"L612M","t":"150","x":99,"v":6},{"s":"L612M","t":"150","x":108,"v":2},{"s":"L612M","t":"150","x":131,"v":1},
{"s":"L612M","t":"120","x":0,"v":0},{"s":"L612M","t":"120","x":6,"v":2},{"s":"L612M","t":"120","x":11,"v":7},{"s":"L612M","t":"120","x":16,"v":14},{"s":"L612M","t":"120","x":20,"v":18},{"s":"L612M","t":"120","x":24,"v":20},{"s":"L612M","t":"120","x":28,"v":18},{"s":"L612M","t":"120","x":33,"v":14},{"s":"L612M","t":"120","x":40,"v":10},{"s":"L612M","t":"120","x":47,"v":8},{"s":"L612M","t":"120","x":53,"v":10},{"s":"L612M","t":"120","x":59,"v":15},{"s":"L612M","t":"120","x":64,"v":24},{"s":"L612M","t":"120","x":69,"v":36},{"s":"L612M","t":"120","x":73,"v":45},{"s":"L612M","t":"120","x":76,"v":50},{"s":"L612M","t":"120","x":79,"v":47},{"s":"L612M","t":"120","x":83,"v":37},{"s":"L612M","t":"120","x":88,"v":22},{"s":"L612M","t":"120","x":94,"v":11},{"s":"L612M","t":"120","x":101,"v":5},{"s":"L612M","t":"120","x":110,"v":2},{"s":"L612M","t":"120","x":131,"v":1},
{"s":"L612M","t":"90","x":0,"v":0},{"s":"L612M","t":"90","x":8,"v":2},{"s":"L612M","t":"90","x":15,"v":5},{"s":"L612M","t":"90","x":21,"v":8},{"s":"L612M","t":"90","x":25,"v":8},{"s":"L612M","t":"90","x":32,"v":7},{"s":"L612M","t":"90","x":41,"v":7},{"s":"L612M","t":"90","x":47,"v":11},{"s":"L612M","t":"90","x":52,"v":19},{"s":"L612M","t":"90","x":56,"v":30},{"s":"L612M","t":"90","x":59,"v":40},{"s":"L612M","t":"90","x":62,"v":48},{"s":"L612M","t":"90","x":64,"v":50},{"s":"L612M","t":"90","x":67,"v":46},{"s":"L612M","t":"90","x":71,"v":36},{"s":"L612M","t":"90","x":75,"v":26},{"s":"L612M","t":"90","x":80,"v":17},{"s":"L612M","t":"90","x":86,"v":8},{"s":"L612M","t":"90","x":92,"v":4},{"s":"L612M","t":"90","x":100,"v":2},{"s":"L612M","t":"90","x":131,"v":1},
{"s":"L612M","t":"60","x":0,"v":0},{"s":"L612M","t":"60","x":8,"v":1},{"s":"L612M","t":"60","x":20,"v":2},{"s":"L612M","t":"60","x":35,"v":3},{"s":"L612M","t":"60","x":45,"v":4},{"s":"L612M","t":"60","x":51,"v":9},{"s":"L612M","t":"60","x":55,"v":16},{"s":"L612M","t":"60","x":59,"v":27},{"s":"L612M","t":"60","x":63,"v":39},{"s":"L612M","t":"60","x":67,"v":49},{"s":"L612M","t":"60","x":69,"v":52},{"s":"L612M","t":"60","x":72,"v":50},{"s":"L612M","t":"60","x":76,"v":41},{"s":"L612M","t":"60","x":81,"v":29},{"s":"L612M","t":"60","x":86,"v":18},{"s":"L612M","t":"60","x":92,"v":8},{"s":"L612M","t":"60","x":98,"v":4},{"s":"L612M","t":"60","x":108,"v":2},{"s":"L612M","t":"60","x":131,"v":1},
{"s":"L612M","t":"30","x":0,"v":0},{"s":"L612M","t":"30","x":5,"v":4},{"s":"L612M","t":"30","x":9,"v":10},{"s":"L612M","t":"30","x":14,"v":14},{"s":"L612M","t":"30","x":20,"v":16},{"s":"L612M","t":"30","x":27,"v":17},{"s":"L612M","t":"30","x":34,"v":19},{"s":"L612M","t":"30","x":41,"v":23},{"s":"L612M","t":"30","x":47,"v":29},{"s":"L612M","t":"30","x":52,"v":36},{"s":"L612M","t":"30","x":57,"v":44},{"s":"L612M","t":"30","x":61,"v":50},{"s":"L612M","t":"30","x":64,"v":52},{"s":"L612M","t":"30","x":68,"v":49},{"s":"L612M","t":"30","x":73,"v":40},{"s":"L612M","t":"30","x":79,"v":27},{"s":"L612M","t":"30","x":85,"v":16},{"s":"L612M","t":"30","x":91,"v":9},{"s":"L612M","t":"30","x":98,"v":5},{"s":"L612M","t":"30","x":108,"v":2},{"s":"L612M","t":"30","x":131,"v":1},
{"s":"L612M","t":"0","x":0,"v":0},{"s":"L612M","t":"0","x":12,"v":1},{"s":"L612M","t":"0","x":18,"v":4},{"s":"L612M","t":"0","x":22,"v":10},{"s":"L612M","t":"0","x":26,"v":22},{"s":"L612M","t":"0","x":30,"v":38},{"s":"L612M","t":"0","x":34,"v":50},{"s":"L612M","t":"0","x":37,"v":44},{"s":"L612M","t":"0","x":40,"v":34},{"s":"L612M","t":"0","x":44,"v":21},{"s":"L612M","t":"0","x":48,"v":11},{"s":"L612M","t":"0","x":52,"v":6},{"s":"L612M","t":"0","x":58,"v":3},{"s":"L612M","t":"0","x":70,"v":2},{"s":"L612M","t":"0","x":131,"v":1},
{"s":"L612M","t":"Async","x":0,"v":0},{"s":"L612M","t":"Async","x":10,"v":1},{"s":"L612M","t":"Async","x":15,"v":5},{"s":"L612M","t":"Async","x":19,"v":16},{"s":"L612M","t":"Async","x":23,"v":34},{"s":"L612M","t":"Async","x":27,"v":51},{"s":"L612M","t":"Async","x":30,"v":46},{"s":"L612M","t":"Async","x":33,"v":33},{"s":"L612M","t":"Async","x":37,"v":23},{"s":"L612M","t":"Async","x":42,"v":12},{"s":"L612M","t":"Async","x":47,"v":5},{"s":"L612M","t":"Async","x":53,"v":3},{"s":"L612M","t":"Async","x":60,"v":2},{"s":"L612M","t":"Async","x":67,"v":5},{"s":"L612M","t":"Async","x":73,"v":11},{"s":"L612M","t":"Async","x":77,"v":16},{"s":"L612M","t":"Async","x":81,"v":20},{"s":"L612M","t":"Async","x":85,"v":16},{"s":"L612M","t":"Async","x":90,"v":11},{"s":"L612M","t":"Async","x":95,"v":7},{"s":"L612M","t":"Async","x":102,"v":4},{"s":"L612M","t":"Async","x":110,"v":2},{"s":"L612M","t":"Async","x":131,"v":0.5},

{"s":"L612K","t":"210","x":0,"v":0},{"s":"L612K","t":"210","x":5,"v":2},{"s":"L612K","t":"210","x":11,"v":7},{"s":"L612K","t":"210","x":17,"v":15},{"s":"L612K","t":"210","x":22,"v":21},{"s":"L612K","t":"210","x":27,"v":26},{"s":"L612K","t":"210","x":31,"v":25},{"s":"L612K","t":"210","x":36,"v":21},{"s":"L612K","t":"210","x":42,"v":19},{"s":"L612K","t":"210","x":48,"v":18},{"s":"L612K","t":"210","x":54,"v":18},{"s":"L612K","t":"210","x":60,"v":21},{"s":"L612K","t":"210","x":66,"v":27},{"s":"L612K","t":"210","x":71,"v":35},{"s":"L612K","t":"210","x":75,"v":43},{"s":"L612K","t":"210","x":78,"v":49},{"s":"L612K","t":"210","x":81,"v":51},{"s":"L612K","t":"210","x":84,"v":48},{"s":"L612K","t":"210","x":88,"v":39},{"s":"L612K","t":"210","x":93,"v":28},{"s":"L612K","t":"210","x":98,"v":18},{"s":"L612K","t":"210","x":104,"v":10},{"s":"L612K","t":"210","x":112,"v":4},{"s":"L612K","t":"210","x":131,"v":2},
{"s":"L612K","t":"180","x":0,"v":0},{"s":"L612K","t":"180","x":5,"v":2},{"s":"L612K","t":"180","x":10,"v":7},{"s":"L612K","t":"180","x":15,"v":15},{"s":"L612K","t":"180","x":20,"v":21},{"s":"L612K","t":"180","x":24,"v":24},{"s":"L612K","t":"180","x":28,"v":22},{"s":"L612K","t":"180","x":33,"v":17},{"s":"L612K","t":"180","x":39,"v":13},{"s":"L612K","t":"180","x":46,"v":11},{"s":"L612K","t":"180","x":51,"v":12},{"s":"L612K","t":"180","x":56,"v":17},{"s":"L612K","t":"180","x":60,"v":25},{"s":"L612K","t":"180","x":63,"v":35},{"s":"L612K","t":"180","x":66,"v":45},{"s":"L612K","t":"180","x":69,"v":51},{"s":"L612K","t":"180","x":72,"v":47},{"s":"L612K","t":"180","x":76,"v":36},{"s":"L612K","t":"180","x":81,"v":24},{"s":"L612K","t":"180","x":87,"v":15},{"s":"L612K","t":"180","x":94,"v":9},{"s":"L612K","t":"180","x":102,"v":5},{"s":"L612K","t":"180","x":112,"v":3},{"s":"L612K","t":"180","x":131,"v":2},
{"s":"L612K","t":"150","x":0,"v":0},{"s":"L612K","t":"150","x":5,"v":2},{"s":"L612K","t":"150","x":10,"v":6},{"s":"L612K","t":"150","x":16,"v":15},{"s":"L612K","t":"150","x":21,"v":21},{"s":"L612K","t":"150","x":26,"v":23},{"s":"L612K","t":"150","x":30,"v":21},{"s":"L612K","t":"150","x":35,"v":17},{"s":"L612K","t":"150","x":42,"v":13},{"s":"L612K","t":"150","x":50,"v":11},{"s":"L612K","t":"150","x":56,"v":13},{"s":"L612K","t":"150","x":62,"v":19},{"s":"L612K","t":"150","x":67,"v":29},{"s":"L612K","t":"150","x":71,"v":40},{"s":"L612K","t":"150","x":74,"v":47},{"s":"L612K","t":"150","x":77,"v":51},{"s":"L612K","t":"150","x":80,"v":48},{"s":"L612K","t":"150","x":84,"v":40},{"s":"L612K","t":"150","x":89,"v":28},{"s":"L612K","t":"150","x":95,"v":17},{"s":"L612K","t":"150","x":102,"v":9},{"s":"L612K","t":"150","x":110,"v":5},{"s":"L612K","t":"150","x":120,"v":3},{"s":"L612K","t":"150","x":131,"v":2},
{"s":"L612K","t":"120","x":0,"v":0},{"s":"L612K","t":"120","x":6,"v":2},{"s":"L612K","t":"120","x":12,"v":6},{"s":"L612K","t":"120","x":18,"v":12},{"s":"L612K","t":"120","x":24,"v":19},{"s":"L612K","t":"120","x":29,"v":22},{"s":"L612K","t":"120","x":33,"v":20},{"s":"L612K","t":"120","x":38,"v":16},{"s":"L612K","t":"120","x":43,"v":13},{"s":"L612K","t":"120","x":47,"v":10},{"s":"L612K","t":"120","x":50,"v":9},{"s":"L612K","t":"120","x":55,"v":12},{"s":"L612K","t":"120","x":61,"v":19},{"s":"L612K","t":"120","x":67,"v":29},{"s":"L612K","t":"120","x":72,"v":40},{"s":"L612K","t":"120","x":76,"v":48},{"s":"L612K","t":"120","x":79,"v":51},{"s":"L612K","t":"120","x":82,"v":48},{"s":"L612K","t":"120","x":86,"v":38},{"s":"L612K","t":"120","x":91,"v":25},{"s":"L612K","t":"120","x":97,"v":14},{"s":"L612K","t":"120","x":104,"v":7},{"s":"L612K","t":"120","x":114,"v":3},{"s":"L612K","t":"120","x":131,"v":2},
{"s":"L612K","t":"90","x":0,"v":0},{"s":"L612K","t":"90","x":5,"v":2},{"s":"L612K","t":"90","x":11,"v":6},{"s":"L612K","t":"90","x":17,"v":10},{"s":"L612K","t":"90","x":24,"v":11},{"s":"L612K","t":"90","x":31,"v":12},{"s":"L612K","t":"90","x":38,"v":15},{"s":"L612K","t":"90","x":44,"v":22},{"s":"L612K","t":"90","x":48,"v":32},{"s":"L612K","t":"90","x":52,"v":42},{"s":"L612K","t":"90","x":55,"v":48},{"s":"L612K","t":"90","x":57,"v":52},{"s":"L612K","t":"90","x":59,"v":47},{"s":"L612K","t":"90","x":61,"v":50},{"s":"L612K","t":"90","x":64,"v":45},{"s":"L612K","t":"90","x":67,"v":34},{"s":"L612K","t":"90","x":70,"v":24},{"s":"L612K","t":"90","x":75,"v":14},{"s":"L612K","t":"90","x":80,"v":8},{"s":"L612K","t":"90","x":88,"v":4},{"s":"L612K","t":"90","x":100,"v":2},{"s":"L612K","t":"90","x":131,"v":1},
{"s":"L612K","t":"60","x":0,"v":0},{"s":"L612K","t":"60","x":8,"v":2},{"s":"L612K","t":"60","x":20,"v":3},{"s":"L612K","t":"60","x":30,"v":4},{"s":"L612K","t":"60","x":42,"v":5},{"s":"L612K","t":"60","x":51,"v":6},{"s":"L612K","t":"60","x":58,"v":12},{"s":"L612K","t":"60","x":64,"v":22},{"s":"L612K","t":"60","x":69,"v":32},{"s":"L612K","t":"60","x":74,"v":42},{"s":"L612K","t":"60","x":78,"v":46},{"s":"L612K","t":"60","x":80,"v":44},{"s":"L612K","t":"60","x":82,"v":48},{"s":"L612K","t":"60","x":84,"v":46},{"s":"L612K","t":"60","x":87,"v":37},{"s":"L612K","t":"60","x":91,"v":27},{"s":"L612K","t":"60","x":96,"v":15},{"s":"L612K","t":"60","x":101,"v":8},{"s":"L612K","t":"60","x":108,"v":4},{"s":"L612K","t":"60","x":118,"v":2},{"s":"L612K","t":"60","x":131,"v":1},
{"s":"L612K","t":"30","x":0,"v":0},{"s":"L612K","t":"30","x":8,"v":2},{"s":"L612K","t":"30","x":20,"v":3},{"s":"L612K","t":"30","x":35,"v":5},{"s":"L612K","t":"30","x":45,"v":7},{"s":"L612K","t":"30","x":52,"v":10},{"s":"L612K","t":"30","x":58,"v":17},{"s":"L612K","t":"30","x":63,"v":27},{"s":"L612K","t":"30","x":67,"v":35},{"s":"L612K","t":"30","x":71,"v":43},{"s":"L612K","t":"30","x":74,"v":49},{"s":"L612K","t":"30","x":77,"v":52},{"s":"L612K","t":"30","x":80,"v":50},{"s":"L612K","t":"30","x":84,"v":44},{"s":"L612K","t":"30","x":88,"v":36},{"s":"L612K","t":"30","x":94,"v":24},{"s":"L612K","t":"30","x":101,"v":14},{"s":"L612K","t":"30","x":108,"v":7},{"s":"L612K","t":"30","x":116,"v":3},{"s":"L612K","t":"30","x":131,"v":1},
{"s":"L612K","t":"0","x":0,"v":0},{"s":"L612K","t":"0","x":10,"v":1},{"s":"L612K","t":"0","x":15,"v":4},{"s":"L612K","t":"0","x":18,"v":8},{"s":"L612K","t":"0","x":21,"v":17},{"s":"L612K","t":"0","x":24,"v":28},{"s":"L612K","t":"0","x":28,"v":40},{"s":"L612K","t":"0","x":31,"v":47},{"s":"L612K","t":"0","x":33,"v":44},{"s":"L612K","t":"0","x":35,"v":50},{"s":"L612K","t":"0","x":38,"v":44},{"s":"L612K","t":"0","x":42,"v":35},{"s":"L612K","t":"0","x":46,"v":25},{"s":"L612K","t":"0","x":51,"v":14},{"s":"L612K","t":"0","x":56,"v":8},{"s":"L612K","t":"0","x":62,"v":6},{"s":"L612K","t":"0","x":70,"v":8},{"s":"L612K","t":"0","x":78,"v":11},{"s":"L612K","t":"0","x":84,"v":14},{"s":"L612K","t":"0","x":87,"v":15},{"s":"L612K","t":"0","x":90,"v":13},{"s":"L612K","t":"0","x":96,"v":10},{"s":"L612K","t":"0","x":104,"v":8},{"s":"L612K","t":"0","x":112,"v":5},{"s":"L612K","t":"0","x":120,"v":3},{"s":"L612K","t":"0","x":131,"v":2},
{"s":"L612K","t":"Async","x":0,"v":0},{"s":"L612K","t":"Async","x":7,"v":1},{"s":"L612K","t":"Async","x":11,"v":5},{"s":"L612K","t":"Async","x":15,"v":13},{"s":"L612K","t":"Async","x":18,"v":25},{"s":"L612K","t":"Async","x":22,"v":38},{"s":"L612K","t":"Async","x":27,"v":50},{"s":"L612K","t":"Async","x":30,"v":46},{"s":"L612K","t":"Async","x":34,"v":35},{"s":"L612K","t":"Async","x":38,"v":26},{"s":"L612K","t":"Async","x":43,"v":17},{"s":"L612K","t":"Async","x":48,"v":11},{"s":"L612K","t":"Async","x":54,"v":8},{"s":"L612K","t":"Async","x":60,"v":9},{"s":"L612K","t":"Async","x":66,"v":13},{"s":"L612K","t":"Async","x":72,"v":20},{"s":"L612K","t":"Async","x":77,"v":27},{"s":"L612K","t":"Async","x":81,"v":32},{"s":"L612K","t":"Async","x":84,"v":33},{"s":"L612K","t":"Async","x":88,"v":29},{"s":"L612K","t":"Async","x":93,"v":22},{"s":"L612K","t":"Async","x":98,"v":16},{"s":"L612K","t":"Async","x":105,"v":10},{"s":"L612K","t":"Async","x":112,"v":6},{"s":"L612K","t":"Async","x":120,"v":2},{"s":"L612K","t":"Async","x":131,"v":1},

{"s":"L612G","t":"210","x":0,"v":0},{"s":"L612G","t":"210","x":3,"v":3},{"s":"L612G","t":"210","x":6,"v":11},{"s":"L612G","t":"210","x":9,"v":23},{"s":"L612G","t":"210","x":13,"v":38},{"s":"L612G","t":"210","x":16,"v":32},{"s":"L612G","t":"210","x":19,"v":24},{"s":"L612G","t":"210","x":23,"v":15},{"s":"L612G","t":"210","x":27,"v":12},{"s":"L612G","t":"210","x":32,"v":11},{"s":"L612G","t":"210","x":37,"v":12},{"s":"L612G","t":"210","x":41,"v":16},{"s":"L612G","t":"210","x":45,"v":26},{"s":"L612G","t":"210","x":49,"v":38},{"s":"L612G","t":"210","x":53,"v":47},{"s":"L612G","t":"210","x":55,"v":49},{"s":"L612G","t":"210","x":58,"v":46},{"s":"L612G","t":"210","x":62,"v":38},{"s":"L612G","t":"210","x":66,"v":26},{"s":"L612G","t":"210","x":70,"v":17},{"s":"L612G","t":"210","x":75,"v":10},{"s":"L612G","t":"210","x":80,"v":5},{"s":"L612G","t":"210","x":88,"v":2},{"s":"L612G","t":"210","x":100,"v":1},{"s":"L612G","t":"210","x":131,"v":0.5},
{"s":"L612G","t":"180","x":0,"v":0},{"s":"L612G","t":"180","x":4,"v":2},{"s":"L612G","t":"180","x":9,"v":5},{"s":"L612G","t":"180","x":15,"v":9},{"s":"L612G","t":"180","x":21,"v":10},{"s":"L612G","t":"180","x":27,"v":11},{"s":"L612G","t":"180","x":33,"v":11},{"s":"L612G","t":"180","x":40,"v":12},{"s":"L612G","t":"180","x":45,"v":15},{"s":"L612G","t":"180","x":49,"v":24},{"s":"L612G","t":"180","x":52,"v":35},{"s":"L612G","t":"180","x":55,"v":45},{"s":"L612G","t":"180","x":57,"v":51},{"s":"L612G","t":"180","x":59,"v":47},{"s":"L612G","t":"180","x":61,"v":50},{"s":"L612G","t":"180","x":64,"v":44},{"s":"L612G","t":"180","x":68,"v":33},{"s":"L612G","t":"180","x":72,"v":23},{"s":"L612G","t":"180","x":77,"v":14},{"s":"L612G","t":"180","x":83,"v":8},{"s":"L612G","t":"180","x":90,"v":4},{"s":"L612G","t":"180","x":100,"v":2},{"s":"L612G","t":"180","x":131,"v":1},
{"s":"L612G","t":"150","x":0,"v":0},{"s":"L612G","t":"150","x":4,"v":2},{"s":"L612G","t":"150","x":8,"v":8},{"s":"L612G","t":"150","x":12,"v":19},{"s":"L612G","t":"150","x":16,"v":23},{"s":"L612G","t":"150","x":20,"v":21},{"s":"L612G","t":"150","x":25,"v":18},{"s":"L612G","t":"150","x":30,"v":16},{"s":"L612G","t":"150","x":35,"v":14},{"s":"L612G","t":"150","x":40,"v":19},{"s":"L612G","t":"150","x":44,"v":25},{"s":"L612G","t":"150","x":48,"v":34},{"s":"L612G","t":"150","x":52,"v":42},{"s":"L612G","t":"150","x":56,"v":47},{"s":"L612G","t":"150","x":59,"v":49},{"s":"L612G","t":"150","x":62,"v":51},{"s":"L612G","t":"150","x":65,"v":47},{"s":"L612G","t":"150","x":68,"v":41},{"s":"L612G","t":"150","x":72,"v":32},{"s":"L612G","t":"150","x":76,"v":23},{"s":"L612G","t":"150","x":81,"v":14},{"s":"L612G","t":"150","x":86,"v":8},{"s":"L612G","t":"150","x":93,"v":4},{"s":"L612G","t":"150","x":102,"v":2},{"s":"L612G","t":"150","x":131,"v":1},
{"s":"L612G","t":"120","x":0,"v":0},{"s":"L612G","t":"120","x":4,"v":2},{"s":"L612G","t":"120","x":9,"v":5},{"s":"L612G","t":"120","x":15,"v":8},{"s":"L612G","t":"120","x":20,"v":6},{"s":"L612G","t":"120","x":26,"v":5},{"s":"L612G","t":"120","x":32,"v":4},{"s":"L612G","t":"120","x":38,"v":7},{"s":"L612G","t":"120","x":43,"v":14},{"s":"L612G","t":"120","x":48,"v":26},{"s":"L612G","t":"120","x":52,"v":37},{"s":"L612G","t":"120","x":56,"v":46},{"s":"L612G","t":"120","x":60,"v":51},{"s":"L612G","t":"120","x":63,"v":47},{"s":"L612G","t":"120","x":67,"v":40},{"s":"L612G","t":"120","x":71,"v":30},{"s":"L612G","t":"120","x":75,"v":22},{"s":"L612G","t":"120","x":80,"v":13},{"s":"L612G","t":"120","x":86,"v":6},{"s":"L612G","t":"120","x":93,"v":3},{"s":"L612G","t":"120","x":102,"v":1},{"s":"L612G","t":"120","x":131,"v":1},
{"s":"L612G","t":"90","x":0,"v":0},{"s":"L612G","t":"90","x":4,"v":3},{"s":"L612G","t":"90","x":8,"v":10},{"s":"L612G","t":"90","x":12,"v":16},{"s":"L612G","t":"90","x":15,"v":18},{"s":"L612G","t":"90","x":20,"v":18},{"s":"L612G","t":"90","x":25,"v":19},{"s":"L612G","t":"90","x":30,"v":18},{"s":"L612G","t":"90","x":35,"v":17},{"s":"L612G","t":"90","x":40,"v":17},{"s":"L612G","t":"90","x":44,"v":20},{"s":"L612G","t":"90","x":48,"v":27},{"s":"L612G","t":"90","x":52,"v":36},{"s":"L612G","t":"90","x":55,"v":45},{"s":"L612G","t":"90","x":58,"v":51},{"s":"L612G","t":"90","x":61,"v":48},{"s":"L612G","t":"90","x":64,"v":43},{"s":"L612G","t":"90","x":67,"v":37},{"s":"L612G","t":"90","x":71,"v":27},{"s":"L612G","t":"90","x":75,"v":18},{"s":"L612G","t":"90","x":80,"v":11},{"s":"L612G","t":"90","x":86,"v":6},{"s":"L612G","t":"90","x":93,"v":3},{"s":"L612G","t":"90","x":102,"v":1},{"s":"L612G","t":"90","x":131,"v":1},
{"s":"L612G","t":"60","x":0,"v":0},{"s":"L612G","t":"60","x":6,"v":2},{"s":"L612G","t":"60","x":14,"v":3},{"s":"L612G","t":"60","x":22,"v":4},{"s":"L612G","t":"60","x":30,"v":5},{"s":"L612G","t":"60","x":38,"v":7},{"s":"L612G","t":"60","x":45,"v":11},{"s":"L612G","t":"60","x":50,"v":16},{"s":"L612G","t":"60","x":55,"v":24},{"s":"L612G","t":"60","x":60,"v":35},{"s":"L612G","t":"60","x":64,"v":42},{"s":"L612G","t":"60","x":67,"v":46},{"s":"L612G","t":"60","x":69,"v":49},{"s":"L612G","t":"60","x":70,"v":51},{"s":"L612G","t":"60","x":72,"v":47},{"s":"L612G","t":"60","x":74,"v":50},{"s":"L612G","t":"60","x":77,"v":43},{"s":"L612G","t":"60","x":80,"v":30},{"s":"L612G","t":"60","x":84,"v":19},{"s":"L612G","t":"60","x":88,"v":9},{"s":"L612G","t":"60","x":93,"v":4},{"s":"L612G","t":"60","x":100,"v":2},{"s":"L612G","t":"60","x":131,"v":1},
{"s":"L612G","t":"30","x":0,"v":0},{"s":"L612G","t":"30","x":3,"v":3},{"s":"L612G","t":"30","x":6,"v":9},{"s":"L612G","t":"30","x":9,"v":17},{"s":"L612G","t":"30","x":12,"v":23},{"s":"L612G","t":"30","x":16,"v":29},{"s":"L612G","t":"30","x":20,"v":33},{"s":"L612G","t":"30","x":23,"v":31},{"s":"L612G","t":"30","x":27,"v":33},{"s":"L612G","t":"30","x":32,"v":36},{"s":"L612G","t":"30","x":37,"v":37},{"s":"L612G","t":"30","x":42,"v":38},{"s":"L612G","t":"30","x":47,"v":40},{"s":"L612G","t":"30","x":52,"v":42},{"s":"L612G","t":"30","x":57,"v":45},{"s":"L612G","t":"30","x":62,"v":48},{"s":"L612G","t":"30","x":65,"v":50},{"s":"L612G","t":"30","x":68,"v":48},{"s":"L612G","t":"30","x":72,"v":48},{"s":"L612G","t":"30","x":76,"v":46},{"s":"L612G","t":"30","x":80,"v":38},{"s":"L612G","t":"30","x":85,"v":30},{"s":"L612G","t":"30","x":90,"v":20},{"s":"L612G","t":"30","x":95,"v":10},{"s":"L612G","t":"30","x":100,"v":5},{"s":"L612G","t":"30","x":108,"v":2},{"s":"L612G","t":"30","x":131,"v":1},
{"s":"L612G","t":"0","x":0,"v":0},{"s":"L612G","t":"0","x":5,"v":2},{"s":"L612G","t":"0","x":9,"v":7},{"s":"L612G","t":"0","x":12,"v":19},{"s":"L612G","t":"0","x":15,"v":31},{"s":"L612G","t":"0","x":18,"v":45},{"s":"L612G","t":"0","x":21,"v":52},{"s":"L612G","t":"0","x":24,"v":47},{"s":"L612G","t":"0","x":27,"v":38},{"s":"L612G","t":"0","x":31,"v":27},{"s":"L612G","t":"0","x":35,"v":17},{"s":"L612G","t":"0","x":39,"v":10},{"s":"L612G","t":"0","x":43,"v":6},{"s":"L612G","t":"0","x":50,"v":4},{"s":"L612G","t":"0","x":58,"v":5},{"s":"L612G","t":"0","x":64,"v":6},{"s":"L612G","t":"0","x":68,"v":7},{"s":"L612G","t":"0","x":73,"v":6},{"s":"L612G","t":"0","x":80,"v":5},{"s":"L612G","t":"0","x":90,"v":4},{"s":"L612G","t":"0","x":100,"v":3},{"s":"L612G","t":"0","x":112,"v":2},{"s":"L612G","t":"0","x":131,"v":1},
{"s":"L612G","t":"Async","x":0,"v":0},{"s":"L612G","t":"Async","x":5,"v":2},{"s":"L612G","t":"Async","x":8,"v":7},{"s":"L612G","t":"Async","x":12,"v":17},{"s":"L612G","t":"Async","x":15,"v":30},{"s":"L612G","t":"Async","x":18,"v":43},{"s":"L612G","t":"Async","x":21,"v":52},{"s":"L612G","t":"Async","x":24,"v":48},{"s":"L612G","t":"Async","x":27,"v":38},{"s":"L612G","t":"Async","x":30,"v":24},{"s":"L612G","t":"Async","x":34,"v":14},{"s":"L612G","t":"Async","x":38,"v":8},{"s":"L612G","t":"Async","x":43,"v":5},{"s":"L612G","t":"Async","x":50,"v":5},{"s":"L612G","t":"Async","x":56,"v":7},{"s":"L612G","t":"Async","x":62,"v":11},{"s":"L612G","t":"Async","x":66,"v":15},{"s":"L612G","t":"Async","x":70,"v":17},{"s":"L612G","t":"Async","x":74,"v":15},{"s":"L612G","t":"Async","x":78,"v":11},{"s":"L612G","t":"Async","x":82,"v":8},{"s":"L612G","t":"Async","x":88,"v":5},{"s":"L612G","t":"Async","x":96,"v":2},{"s":"L612G","t":"Async","x":106,"v":1},{"s":"L612G","t":"Async","x":131,"v":0.5},

{"s":"L612N","t":"210","x":0,"v":0},{"s":"L612N","t":"210","x":6,"v":2},{"s":"L612N","t":"210","x":12,"v":6},{"s":"L612N","t":"210","x":18,"v":10},{"s":"L612N","t":"210","x":24,"v":12},{"s":"L612N","t":"210","x":30,"v":11},{"s":"L612N","t":"210","x":36,"v":9},{"s":"L612N","t":"210","x":42,"v":8},{"s":"L612N","t":"210","x":48,"v":11},{"s":"L612N","t":"210","x":53,"v":20},{"s":"L612N","t":"210","x":57,"v":30},{"s":"L612N","t":"210","x":61,"v":41},{"s":"L612N","t":"210","x":64,"v":48},{"s":"L612N","t":"210","x":66,"v":51},{"s":"L612N","t":"210","x":69,"v":49},{"s":"L612N","t":"210","x":73,"v":40},{"s":"L612N","t":"210","x":78,"v":28},{"s":"L612N","t":"210","x":84,"v":18},{"s":"L612N","t":"210","x":90,"v":10},{"s":"L612N","t":"210","x":96,"v":5},{"s":"L612N","t":"210","x":104,"v":2},{"s":"L612N","t":"210","x":115,"v":1},{"s":"L612N","t":"210","x":131,"v":0.5},
{"s":"L612N","t":"180","x":0,"v":0},{"s":"L612N","t":"180","x":6,"v":2},{"s":"L612N","t":"180","x":12,"v":6},{"s":"L612N","t":"180","x":18,"v":10},{"s":"L612N","t":"180","x":24,"v":12},{"s":"L612N","t":"180","x":30,"v":10},{"s":"L612N","t":"180","x":37,"v":8},{"s":"L612N","t":"180","x":44,"v":8},{"s":"L612N","t":"180","x":50,"v":11},{"s":"L612N","t":"180","x":55,"v":19},{"s":"L612N","t":"180","x":59,"v":30},{"s":"L612N","t":"180","x":63,"v":42},{"s":"L612N","t":"180","x":66,"v":49},{"s":"L612N","t":"180","x":68,"v":51},{"s":"L612N","t":"180","x":71,"v":48},{"s":"L612N","t":"180","x":75,"v":41},{"s":"L612N","t":"180","x":79,"v":33},{"s":"L612N","t":"180","x":84,"v":22},{"s":"L612N","t":"180","x":90,"v":13},{"s":"L612N","t":"180","x":96,"v":7},{"s":"L612N","t":"180","x":104,"v":3},{"s":"L612N","t":"180","x":115,"v":1},{"s":"L612N","t":"180","x":131,"v":0.5},
{"s":"L612N","t":"150","x":0,"v":0},{"s":"L612N","t":"150","x":6,"v":2},{"s":"L612N","t":"150","x":12,"v":7},{"s":"L612N","t":"150","x":18,"v":11},{"s":"L612N","t":"150","x":24,"v":13},{"s":"L612N","t":"150","x":30,"v":11},{"s":"L612N","t":"150","x":37,"v":9},{"s":"L612N","t":"150","x":43,"v":11},{"s":"L612N","t":"150","x":48,"v":17},{"s":"L612N","t":"150","x":52,"v":26},{"s":"L612N","t":"150","x":56,"v":35},{"s":"L612N","t":"150","x":59,"v":44},{"s":"L612N","t":"150","x":62,"v":50},{"s":"L612N","t":"150","x":64,"v":51},{"s":"L612N","t":"150","x":67,"v":48},{"s":"L612N","t":"150","x":71,"v":41},{"s":"L612N","t":"150","x":76,"v":30},{"s":"L612N","t":"150","x":81,"v":20},{"s":"L612N","t":"150","x":86,"v":12},{"s":"L612N","t":"150","x":92,"v":6},{"s":"L612N","t":"150","x":100,"v":3},{"s":"L612N","t":"150","x":112,"v":1},{"s":"L612N","t":"150","x":131,"v":0.5},
{"s":"L612N","t":"120","x":0,"v":0},{"s":"L612N","t":"120","x":6,"v":2},{"s":"L612N","t":"120","x":12,"v":6},{"s":"L612N","t":"120","x":18,"v":10},{"s":"L612N","t":"120","x":24,"v":12},{"s":"L612N","t":"120","x":30,"v":10},{"s":"L612N","t":"120","x":36,"v":8},{"s":"L612N","t":"120","x":42,"v":10},{"s":"L612N","t":"120","x":47,"v":15},{"s":"L612N","t":"120","x":52,"v":24},{"s":"L612N","t":"120","x":56,"v":32},{"s":"L612N","t":"120","x":59,"v":41},{"s":"L612N","t":"120","x":61,"v":47},{"s":"L612N","t":"120","x":62,"v":44},{"s":"L612N","t":"120","x":63,"v":51},{"s":"L612N","t":"120","x":65,"v":46},{"s":"L612N","t":"120","x":67,"v":49},{"s":"L612N","t":"120","x":71,"v":39},{"s":"L612N","t":"120","x":76,"v":28},{"s":"L612N","t":"120","x":82,"v":18},{"s":"L612N","t":"120","x":88,"v":10},{"s":"L612N","t":"120","x":95,"v":5},{"s":"L612N","t":"120","x":105,"v":2},{"s":"L612N","t":"120","x":131,"v":0.5},
{"s":"L612N","t":"90","x":0,"v":0},{"s":"L612N","t":"90","x":6,"v":2},{"s":"L612N","t":"90","x":12,"v":7},{"s":"L612N","t":"90","x":18,"v":12},{"s":"L612N","t":"90","x":24,"v":14},{"s":"L612N","t":"90","x":29,"v":14},{"s":"L612N","t":"90","x":32,"v":17},{"s":"L612N","t":"90","x":34,"v":21},{"s":"L612N","t":"90","x":36,"v":17},{"s":"L612N","t":"90","x":41,"v":14},{"s":"L612N","t":"90","x":47,"v":15},{"s":"L612N","t":"90","x":53,"v":19},{"s":"L612N","t":"90","x":58,"v":25},{"s":"L612N","t":"90","x":62,"v":31},{"s":"L612N","t":"90","x":66,"v":38},{"s":"L612N","t":"90","x":70,"v":45},{"s":"L612N","t":"90","x":72,"v":48},{"s":"L612N","t":"90","x":74,"v":51},{"s":"L612N","t":"90","x":76,"v":47},{"s":"L612N","t":"90","x":78,"v":49},{"s":"L612N","t":"90","x":81,"v":41},{"s":"L612N","t":"90","x":86,"v":30},{"s":"L612N","t":"90","x":91,"v":19},{"s":"L612N","t":"90","x":96,"v":10},{"s":"L612N","t":"90","x":104,"v":4},{"s":"L612N","t":"90","x":114,"v":1.5},{"s":"L612N","t":"90","x":131,"v":0.5},
{"s":"L612N","t":"60","x":0,"v":0},{"s":"L612N","t":"60","x":8,"v":2},{"s":"L612N","t":"60","x":18,"v":4},{"s":"L612N","t":"60","x":28,"v":5},{"s":"L612N","t":"60","x":38,"v":6},{"s":"L612N","t":"60","x":46,"v":8},{"s":"L612N","t":"60","x":52,"v":13},{"s":"L612N","t":"60","x":57,"v":22},{"s":"L612N","t":"60","x":61,"v":34},{"s":"L612N","t":"60","x":65,"v":42},{"s":"L612N","t":"60","x":69,"v":46},{"s":"L612N","t":"60","x":72,"v":48},{"s":"L612N","t":"60","x":74,"v":50},{"s":"L612N","t":"60","x":76,"v":47},{"s":"L612N","t":"60","x":79,"v":44},{"s":"L612N","t":"60","x":84,"v":38},{"s":"L612N","t":"60","x":89,"v":28},{"s":"L612N","t":"60","x":94,"v":17},{"s":"L612N","t":"60","x":99,"v":9},{"s":"L612N","t":"60","x":106,"v":4},{"s":"L612N","t":"60","x":115,"v":2},{"s":"L612N","t":"60","x":131,"v":1},
{"s":"L612N","t":"30","x":0,"v":0},{"s":"L612N","t":"30","x":4,"v":4},{"s":"L612N","t":"30","x":9,"v":8},{"s":"L612N","t":"30","x":15,"v":11},{"s":"L612N","t":"30","x":21,"v":13},{"s":"L612N","t":"30","x":27,"v":16},{"s":"L612N","t":"30","x":33,"v":19},{"s":"L612N","t":"30","x":40,"v":25},{"s":"L612N","t":"30","x":47,"v":31},{"s":"L612N","t":"30","x":53,"v":37},{"s":"L612N","t":"30","x":59,"v":43},{"s":"L612N","t":"30","x":64,"v":47},{"s":"L612N","t":"30","x":68,"v":50},{"s":"L612N","t":"30","x":71,"v":52},{"s":"L612N","t":"30","x":74,"v":49},{"s":"L612N","t":"30","x":79,"v":42},{"s":"L612N","t":"30","x":84,"v":30},{"s":"L612N","t":"30","x":90,"v":20},{"s":"L612N","t":"30","x":97,"v":10},{"s":"L612N","t":"30","x":104,"v":4},{"s":"L612N","t":"30","x":112,"v":2},{"s":"L612N","t":"30","x":131,"v":1},
{"s":"L612N","t":"0","x":0,"v":0},{"s":"L612N","t":"0","x":8,"v":1},{"s":"L612N","t":"0","x":13,"v":5},{"s":"L612N","t":"0","x":17,"v":14},{"s":"L612N","t":"0","x":20,"v":25},{"s":"L612N","t":"0","x":23,"v":37},{"s":"L612N","t":"0","x":26,"v":47},{"s":"L612N","t":"0","x":28,"v":50},{"s":"L612N","t":"0","x":30,"v":46},{"s":"L612N","t":"0","x":33,"v":38},{"s":"L612N","t":"0","x":37,"v":27},{"s":"L612N","t":"0","x":42,"v":17},{"s":"L612N","t":"0","x":47,"v":10},{"s":"L612N","t":"0","x":53,"v":7},{"s":"L612N","t":"0","x":60,"v":7},{"s":"L612N","t":"0","x":67,"v":7},{"s":"L612N","t":"0","x":73,"v":6},{"s":"L612N","t":"0","x":80,"v":5},{"s":"L612N","t":"0","x":90,"v":3},{"s":"L612N","t":"0","x":100,"v":2},{"s":"L612N","t":"0","x":115,"v":1},{"s":"L612N","t":"0","x":131,"v":0.5},
{"s":"L612N","t":"Async","x":0,"v":0},{"s":"L612N","t":"Async","x":6,"v":1},{"s":"L612N","t":"Async","x":10,"v":4},{"s":"L612N","t":"Async","x":14,"v":12},{"s":"L612N","t":"Async","x":18,"v":26},{"s":"L612N","t":"Async","x":21,"v":38},{"s":"L612N","t":"Async","x":24,"v":47},{"s":"L612N","t":"Async","x":27,"v":42},{"s":"L612N","t":"Async","x":30,"v":32},{"s":"L612N","t":"Async","x":34,"v":22},{"s":"L612N","t":"Async","x":39,"v":13},{"s":"L612N","t":"Async","x":44,"v":7},{"s":"L612N","t":"Async","x":50,"v":5},{"s":"L612N","t":"Async","x":55,"v":5},{"s":"L612N","t":"Async","x":60,"v":10},{"s":"L612N","t":"Async","x":64,"v":22},{"s":"L612N","t":"Async","x":67,"v":34},{"s":"L612N","t":"Async","x":70,"v":45},{"s":"L612N","t":"Async","x":73,"v":52},{"s":"L612N","t":"Async","x":76,"v":48},{"s":"L612N","t":"Async","x":80,"v":38},{"s":"L612N","t":"Async","x":84,"v":28},{"s":"L612N","t":"Async","x":88,"v":21},{"s":"L612N","t":"Async","x":93,"v":14},{"s":"L612N","t":"Async","x":99,"v":7},{"s":"L612N","t":"Async","x":106,"v":3},{"s":"L612N","t":"Async","x":115,"v":1},{"s":"L612N","t":"Async","x":131,"v":0.5},

{"s":"Pol3-01","t":"210","x":0,"v":0},{"s":"Pol3-01","t":"210","x":6,"v":2},{"s":"Pol3-01","t":"210","x":11,"v":7},{"s":"Pol3-01","t":"210","x":16,"v":17},{"s":"Pol3-01","t":"210","x":20,"v":27},{"s":"Pol3-01","t":"210","x":24,"v":33},{"s":"Pol3-01","t":"210","x":27,"v":31},{"s":"Pol3-01","t":"210","x":31,"v":23},{"s":"Pol3-01","t":"210","x":36,"v":15},{"s":"Pol3-01","t":"210","x":42,"v":10},{"s":"Pol3-01","t":"210","x":48,"v":8},{"s":"Pol3-01","t":"210","x":54,"v":10},{"s":"Pol3-01","t":"210","x":60,"v":17},{"s":"Pol3-01","t":"210","x":65,"v":28},{"s":"Pol3-01","t":"210","x":69,"v":40},{"s":"Pol3-01","t":"210","x":72,"v":48},{"s":"Pol3-01","t":"210","x":74,"v":51},{"s":"Pol3-01","t":"210","x":77,"v":48},{"s":"Pol3-01","t":"210","x":81,"v":38},{"s":"Pol3-01","t":"210","x":85,"v":28},{"s":"Pol3-01","t":"210","x":90,"v":16},{"s":"Pol3-01","t":"210","x":95,"v":8},{"s":"Pol3-01","t":"210","x":102,"v":4},{"s":"Pol3-01","t":"210","x":112,"v":2},{"s":"Pol3-01","t":"210","x":131,"v":0.5},
{"s":"Pol3-01","t":"180","x":0,"v":0},{"s":"Pol3-01","t":"180","x":6,"v":2},{"s":"Pol3-01","t":"180","x":11,"v":8},{"s":"Pol3-01","t":"180","x":15,"v":19},{"s":"Pol3-01","t":"180","x":19,"v":27},{"s":"Pol3-01","t":"180","x":23,"v":31},{"s":"Pol3-01","t":"180","x":26,"v":29},{"s":"Pol3-01","t":"180","x":30,"v":22},{"s":"Pol3-01","t":"180","x":35,"v":16},{"s":"Pol3-01","t":"180","x":41,"v":12},{"s":"Pol3-01","t":"180","x":47,"v":9},{"s":"Pol3-01","t":"180","x":53,"v":11},{"s":"Pol3-01","t":"180","x":58,"v":19},{"s":"Pol3-01","t":"180","x":62,"v":30},{"s":"Pol3-01","t":"180","x":66,"v":42},{"s":"Pol3-01","t":"180","x":69,"v":51},{"s":"Pol3-01","t":"180","x":72,"v":48},{"s":"Pol3-01","t":"180","x":76,"v":40},{"s":"Pol3-01","t":"180","x":81,"v":30},{"s":"Pol3-01","t":"180","x":86,"v":19},{"s":"Pol3-01","t":"180","x":91,"v":11},{"s":"Pol3-01","t":"180","x":97,"v":6},{"s":"Pol3-01","t":"180","x":105,"v":3},{"s":"Pol3-01","t":"180","x":115,"v":1.5},{"s":"Pol3-01","t":"180","x":131,"v":1},
{"s":"Pol3-01","t":"150","x":0,"v":0},{"s":"Pol3-01","t":"150","x":4,"v":2},{"s":"Pol3-01","t":"150","x":8,"v":9},{"s":"Pol3-01","t":"150","x":12,"v":18},{"s":"Pol3-01","t":"150","x":16,"v":23},{"s":"Pol3-01","t":"150","x":18,"v":24},{"s":"Pol3-01","t":"150","x":21,"v":22},{"s":"Pol3-01","t":"150","x":25,"v":18},{"s":"Pol3-01","t":"150","x":30,"v":15},{"s":"Pol3-01","t":"150","x":35,"v":13},{"s":"Pol3-01","t":"150","x":40,"v":14},{"s":"Pol3-01","t":"150","x":44,"v":17},{"s":"Pol3-01","t":"150","x":48,"v":26},{"s":"Pol3-01","t":"150","x":52,"v":37},{"s":"Pol3-01","t":"150","x":55,"v":44},{"s":"Pol3-01","t":"150","x":58,"v":48},{"s":"Pol3-01","t":"150","x":60,"v":46},{"s":"Pol3-01","t":"150","x":62,"v":51},{"s":"Pol3-01","t":"150","x":65,"v":48},{"s":"Pol3-01","t":"150","x":69,"v":43},{"s":"Pol3-01","t":"150","x":73,"v":35},{"s":"Pol3-01","t":"150","x":78,"v":25},{"s":"Pol3-01","t":"150","x":83,"v":16},{"s":"Pol3-01","t":"150","x":89,"v":10},{"s":"Pol3-01","t":"150","x":95,"v":6},{"s":"Pol3-01","t":"150","x":103,"v":3},{"s":"Pol3-01","t":"150","x":115,"v":1.5},{"s":"Pol3-01","t":"150","x":131,"v":1},
{"s":"Pol3-01","t":"120","x":0,"v":0},{"s":"Pol3-01","t":"120","x":6,"v":2},{"s":"Pol3-01","t":"120","x":12,"v":5},{"s":"Pol3-01","t":"120","x":18,"v":9},{"s":"Pol3-01","t":"120","x":23,"v":12},{"s":"Pol3-01","t":"120","x":28,"v":14},{"s":"Pol3-01","t":"120","x":33,"v":13},{"s":"Pol3-01","t":"120","x":39,"v":11},{"s":"Pol3-01","t":"120","x":45,"v":10},{"s":"Pol3-01","t":"120","x":51,"v":9},{"s":"Pol3-01","t":"120","x":57,"v":12},{"s":"Pol3-01","t":"120","x":62,"v":19},{"s":"Pol3-01","t":"120","x":66,"v":28},{"s":"Pol3-01","t":"120","x":70,"v":39},{"s":"Pol3-01","t":"120","x":73,"v":46},{"s":"Pol3-01","t":"120","x":75,"v":49},{"s":"Pol3-01","t":"120","x":78,"v":46},{"s":"Pol3-01","t":"120","x":81,"v":38},{"s":"Pol3-01","t":"120","x":86,"v":26},{"s":"Pol3-01","t":"120","x":91,"v":15},{"s":"Pol3-01","t":"120","x":97,"v":8},{"s":"Pol3-01","t":"120","x":104,"v":4},{"s":"Pol3-01","t":"120","x":114,"v":2},{"s":"Pol3-01","t":"120","x":131,"v":1},
{"s":"Pol3-01","t":"90","x":0,"v":0},{"s":"Pol3-01","t":"90","x":4,"v":2},{"s":"Pol3-01","t":"90","x":9,"v":7},{"s":"Pol3-01","t":"90","x":14,"v":12},{"s":"Pol3-01","t":"90","x":18,"v":14},{"s":"Pol3-01","t":"90","x":22,"v":13},{"s":"Pol3-01","t":"90","x":27,"v":12},{"s":"Pol3-01","t":"90","x":32,"v":11},{"s":"Pol3-01","t":"90","x":38,"v":12},{"s":"Pol3-01","t":"90","x":44,"v":14},{"s":"Pol3-01","t":"90","x":50,"v":19},{"s":"Pol3-01","t":"90","x":55,"v":27},{"s":"Pol3-01","t":"90","x":59,"v":36},{"s":"Pol3-01","t":"90","x":63,"v":44},{"s":"Pol3-01","t":"90","x":66,"v":48},{"s":"Pol3-01","t":"90","x":67,"v":46},{"s":"Pol3-01","t":"90","x":68,"v":51},{"s":"Pol3-01","t":"90","x":70,"v":48},{"s":"Pol3-01","t":"90","x":73,"v":42},{"s":"Pol3-01","t":"90","x":77,"v":32},{"s":"Pol3-01","t":"90","x":82,"v":21},{"s":"Pol3-01","t":"90","x":87,"v":12},{"s":"Pol3-01","t":"90","x":93,"v":6},{"s":"Pol3-01","t":"90","x":100,"v":3},{"s":"Pol3-01","t":"90","x":110,"v":1.5},{"s":"Pol3-01","t":"90","x":131,"v":1},
{"s":"Pol3-01","t":"60","x":0,"v":0},{"s":"Pol3-01","t":"60","x":8,"v":1},{"s":"Pol3-01","t":"60","x":18,"v":2},{"s":"Pol3-01","t":"60","x":30,"v":2},{"s":"Pol3-01","t":"60","x":40,"v":3},{"s":"Pol3-01","t":"60","x":47,"v":6},{"s":"Pol3-01","t":"60","x":52,"v":11},{"s":"Pol3-01","t":"60","x":57,"v":19},{"s":"Pol3-01","t":"60","x":61,"v":28},{"s":"Pol3-01","t":"60","x":65,"v":37},{"s":"Pol3-01","t":"60","x":69,"v":44},{"s":"Pol3-01","t":"60","x":73,"v":48},{"s":"Pol3-01","t":"60","x":76,"v":50},{"s":"Pol3-01","t":"60","x":79,"v":47},{"s":"Pol3-01","t":"60","x":83,"v":39},{"s":"Pol3-01","t":"60","x":87,"v":28},{"s":"Pol3-01","t":"60","x":91,"v":18},{"s":"Pol3-01","t":"60","x":95,"v":11},{"s":"Pol3-01","t":"60","x":101,"v":5},{"s":"Pol3-01","t":"60","x":108,"v":2},{"s":"Pol3-01","t":"60","x":118,"v":1},{"s":"Pol3-01","t":"60","x":131,"v":0.5},
{"s":"Pol3-01","t":"30","x":0,"v":0},{"s":"Pol3-01","t":"30","x":5,"v":3},{"s":"Pol3-01","t":"30","x":10,"v":10},{"s":"Pol3-01","t":"30","x":14,"v":17},{"s":"Pol3-01","t":"30","x":18,"v":21},{"s":"Pol3-01","t":"30","x":22,"v":23},{"s":"Pol3-01","t":"30","x":26,"v":22},{"s":"Pol3-01","t":"30","x":30,"v":21},{"s":"Pol3-01","t":"30","x":35,"v":20},{"s":"Pol3-01","t":"30","x":40,"v":20},{"s":"Pol3-01","t":"30","x":45,"v":21},{"s":"Pol3-01","t":"30","x":50,"v":23},{"s":"Pol3-01","t":"30","x":55,"v":28},{"s":"Pol3-01","t":"30","x":59,"v":35},{"s":"Pol3-01","t":"30","x":62,"v":41},{"s":"Pol3-01","t":"30","x":65,"v":46},{"s":"Pol3-01","t":"30","x":68,"v":48},{"s":"Pol3-01","t":"30","x":71,"v":46},{"s":"Pol3-01","t":"30","x":75,"v":41},{"s":"Pol3-01","t":"30","x":79,"v":35},{"s":"Pol3-01","t":"30","x":84,"v":24},{"s":"Pol3-01","t":"30","x":90,"v":13},{"s":"Pol3-01","t":"30","x":97,"v":6},{"s":"Pol3-01","t":"30","x":105,"v":2},{"s":"Pol3-01","t":"30","x":115,"v":1},{"s":"Pol3-01","t":"30","x":131,"v":0.5},
{"s":"Pol3-01","t":"0","x":0,"v":0},{"s":"Pol3-01","t":"0","x":10,"v":1},{"s":"Pol3-01","t":"0","x":15,"v":4},{"s":"Pol3-01","t":"0","x":19,"v":11},{"s":"Pol3-01","t":"0","x":23,"v":23},{"s":"Pol3-01","t":"0","x":26,"v":35},{"s":"Pol3-01","t":"0","x":29,"v":45},{"s":"Pol3-01","t":"0","x":31,"v":50},{"s":"Pol3-01","t":"0","x":34,"v":46},{"s":"Pol3-01","t":"0","x":37,"v":37},{"s":"Pol3-01","t":"0","x":41,"v":24},{"s":"Pol3-01","t":"0","x":45,"v":14},{"s":"Pol3-01","t":"0","x":49,"v":7},{"s":"Pol3-01","t":"0","x":55,"v":4},{"s":"Pol3-01","t":"0","x":62,"v":3},{"s":"Pol3-01","t":"0","x":72,"v":3},{"s":"Pol3-01","t":"0","x":82,"v":3},{"s":"Pol3-01","t":"0","x":90,"v":2.5},{"s":"Pol3-01","t":"0","x":100,"v":2},{"s":"Pol3-01","t":"0","x":115,"v":1},{"s":"Pol3-01","t":"0","x":131,"v":0.5},
{"s":"Pol3-01","t":"Async","x":0,"v":0},{"s":"Pol3-01","t":"Async","x":10,"v":1},{"s":"Pol3-01","t":"Async","x":15,"v":4},{"s":"Pol3-01","t":"Async","x":19,"v":11},{"s":"Pol3-01","t":"Async","x":23,"v":25},{"s":"Pol3-01","t":"Async","x":26,"v":36},{"s":"Pol3-01","t":"Async","x":29,"v":46},{"s":"Pol3-01","t":"Async","x":31,"v":50},{"s":"Pol3-01","t":"Async","x":34,"v":46},{"s":"Pol3-01","t":"Async","x":37,"v":36},{"s":"Pol3-01","t":"Async","x":40,"v":26},{"s":"Pol3-01","t":"Async","x":44,"v":16},{"s":"Pol3-01","t":"Async","x":48,"v":9},{"s":"Pol3-01","t":"Async","x":54,"v":5},{"s":"Pol3-01","t":"Async","x":60,"v":3},{"s":"Pol3-01","t":"Async","x":66,"v":4},{"s":"Pol3-01","t":"Async","x":72,"v":8},{"s":"Pol3-01","t":"Async","x":77,"v":13},{"s":"Pol3-01","t":"Async","x":81,"v":17},{"s":"Pol3-01","t":"Async","x":84,"v":20},{"s":"Pol3-01","t":"Async","x":88,"v":17},{"s":"Pol3-01","t":"Async","x":92,"v":12},{"s":"Pol3-01","t":"Async","x":97,"v":8},{"s":"Pol3-01","t":"Async","x":103,"v":4},{"s":"Pol3-01","t":"Async","x":110,"v":2},{"s":"Pol3-01","t":"Async","x":120,"v":1},{"s":"Pol3-01","t":"Async","x":131,"v":0}
]},
"data": {"name": "d"},
"vconcat": [
{
"transform": [{"filter": {"field": "s", "oneOf": ["L612", "L612I", "L612V"]}}],
"bounds": "flush",
"spacing": {"row": 0, "column": 5},
"facet": {
"row": {"field": "t", "type": "nominal", "sort": ["210","180","150","120","90","60","30","0","Async"], "title": null,
"header": {"labelAngle": 0, "labelAlign": "center", "labelAnchor": "end", "labelBaseline": "alphabetic", "labelPadding": -26, "labelFont": "Liberation Serif", "labelFontSize": 23, "labelColor": "black", "labelLineHeight": 26.75, "labelExpr": "datum.value == '210' ? ['Min', '210', '\u200b            \u200b'] : ['', datum.value, '\u200b            \u200b']"}},
"column": {"field": "s", "type": "nominal", "sort": ["L612", "L612I", "L612V"], "title": null,
"header": {"labelFont": "Liberation Serif", "labelFontWeight": "bold", "labelFontSize": 29, "labelColor": "black", "labelPadding": 40}}
},
"spec": {
"width": 131, "height": 26.75,
"layer": [
{"transform": [{"filter": "datum.x == 0"}], "mark": {"type": "rect", "fill": "#d9d9d9"},
"encoding": {"x": {"datum": 0, "type": "quantitative", "scale": {"domain": [0, 131], "nice": false, "zero": false}, "axis": null}, "x2": {"datum": 131}, "y": {"datum": -2.3, "type": "quantitative", "scale": {"domain": [-5, 21.75], "nice": false, "zero": false}, "axis": null}, "y2": {"datum": 0}}},
{"mark": {"type": "area", "interpolate": "monotone", "fill": "#b4b4b4"},
"encoding": {"x": {"field": "x", "type": "quantitative", "scale": {"domain": [0, 131], "nice": false, "zero": false}, "axis": null}, "y": {"field": "v", "type": "quantitative", "scale": {"domain": [-5, 21.75], "nice": false, "zero": false}, "axis": null}, "y2": {"datum": 0}}},
{"mark": {"type": "line", "interpolate": "monotone", "color": "black", "strokeWidth": 1},
"encoding": {"x": {"field": "x", "type": "quantitative"}, "y": {"field": "v", "type": "quantitative"}}},
{"transform": [{"filter": "datum.x == 0 && datum.t == 'Async'"}], "mark": {"type": "rect", "fill": null, "stroke": "black", "strokeWidth": 1.8},
"encoding": {"x": {"datum": 0, "type": "quantitative"}, "x2": {"datum": 131}, "y": {"datum": 0, "type": "quantitative"}, "y2": {"datum": 270}}}
]
}
},
{
"transform": [{"filter": {"field": "s", "oneOf": ["L612T", "L612M", "L612K"]}}],
"bounds": "flush",
"spacing": {"row": 0, "column": 5},
"facet": {
"row": {"field": "t", "type": "nominal", "sort": ["210","180","150","120","90","60","30","0","Async"], "title": null,
"header": {"labelAngle": 0, "labelAlign": "center", "labelAnchor": "end", "labelBaseline": "alphabetic", "labelPadding": -26, "labelFont": "Liberation Serif", "labelFontSize": 23, "labelColor": "black", "labelLineHeight": 26.75, "labelExpr": "datum.value == '210' ? ['Min', '210', '\u200b            \u200b'] : ['', datum.value, '\u200b            \u200b']"}},
"column": {"field": "s", "type": "nominal", "sort": ["L612T", "L612M", "L612K"], "title": null,
"header": {"labelFont": "Liberation Serif", "labelFontWeight": "bold", "labelFontSize": 29, "labelColor": "black", "labelPadding": 40}}
},
"spec": {
"width": 131, "height": 26.75,
"layer": [
{"transform": [{"filter": "datum.x == 0"}], "mark": {"type": "rect", "fill": "#d9d9d9"},
"encoding": {"x": {"datum": 0, "type": "quantitative", "scale": {"domain": [0, 131], "nice": false, "zero": false}, "axis": null}, "x2": {"datum": 131}, "y": {"datum": -2.3, "type": "quantitative", "scale": {"domain": [-5, 21.75], "nice": false, "zero": false}, "axis": null}, "y2": {"datum": 0}}},
{"mark": {"type": "area", "interpolate": "monotone", "fill": "#b4b4b4"},
"encoding": {"x": {"field": "x", "type": "quantitative", "scale": {"domain": [0, 131], "nice": false, "zero": false}, "axis": null}, "y": {"field": "v", "type": "quantitative", "scale": {"domain": [-5, 21.75], "nice": false, "zero": false}, "axis": null}, "y2": {"datum": 0}}},
{"mark": {"type": "line", "interpolate": "monotone", "color": "black", "strokeWidth": 1},
"encoding": {"x": {"field": "x", "type": "quantitative"}, "y": {"field": "v", "type": "quantitative"}}},
{"transform": [{"filter": "datum.x == 0 && datum.t == 'Async'"}], "mark": {"type": "rect", "fill": null, "stroke": "black", "strokeWidth": 1.8},
"encoding": {"x": {"datum": 0, "type": "quantitative"}, "x2": {"datum": 131}, "y": {"datum": 0, "type": "quantitative"}, "y2": {"datum": 270}}}
]
}
},
{
"transform": [{"filter": {"field": "s", "oneOf": ["L612G", "L612N", "Pol3-01"]}}],
"bounds": "flush",
"spacing": {"row": 0, "column": 5},
"facet": {
"row": {"field": "t", "type": "nominal", "sort": ["210","180","150","120","90","60","30","0","Async"], "title": null,
"header": {"labelAngle": 0, "labelAlign": "center", "labelAnchor": "end", "labelBaseline": "alphabetic", "labelPadding": -26, "labelFont": "Liberation Serif", "labelFontSize": 23, "labelColor": "black", "labelLineHeight": 26.75, "labelExpr": "datum.value == '210' ? ['Min', '210', '\u200b            \u200b'] : ['', datum.value, '\u200b            \u200b']"}},
"column": {"field": "s", "type": "nominal", "sort": ["L612G", "L612N", "Pol3-01"], "title": null,
"header": {"labelFont": "Liberation Serif", "labelFontWeight": "bold", "labelFontSize": 29, "labelColor": "black", "labelPadding": 40}}
},
"spec": {
"width": 131, "height": 26.75,
"layer": [
{"transform": [{"filter": "datum.x == 0"}], "mark": {"type": "rect", "fill": "#d9d9d9"},
"encoding": {"x": {"datum": 0, "type": "quantitative", "scale": {"domain": [0, 131], "nice": false, "zero": false}, "axis": null}, "x2": {"datum": 131}, "y": {"datum": -2.3, "type": "quantitative", "scale": {"domain": [-5, 21.75], "nice": false, "zero": false}, "axis": null}, "y2": {"datum": 0}}},
{"mark": {"type": "area", "interpolate": "monotone", "fill": "#b4b4b4"},
"encoding": {"x": {"field": "x", "type": "quantitative", "scale": {"domain": [0, 131], "nice": false, "zero": false}, "axis": null}, "y": {"field": "v", "type": "quantitative", "scale": {"domain": [-5, 21.75], "nice": false, "zero": false}, "axis": null}, "y2": {"datum": 0}}},
{"mark": {"type": "line", "interpolate": "monotone", "color": "black", "strokeWidth": 1},
"encoding": {"x": {"field": "x", "type": "quantitative"}, "y": {"field": "v", "type": "quantitative"}}},
{"transform": [{"filter": "datum.x == 0 && datum.t == 'Async'"}], "mark": {"type": "rect", "fill": null, "stroke": "black", "strokeWidth": 1.8},
"encoding": {"x": {"datum": 0, "type": "quantitative"}, "x2": {"datum": 131}, "y": {"datum": 0, "type": "quantitative"}, "y2": {"datum": 270}}}
]
}
}
]
}
